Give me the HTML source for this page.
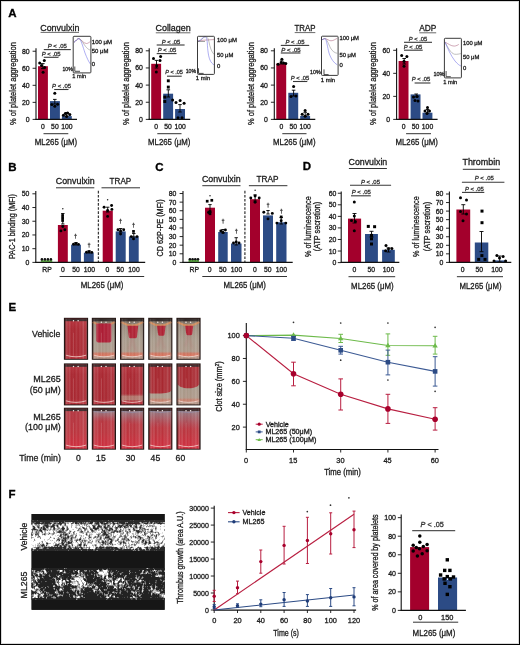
<!DOCTYPE html>
<html><head><meta charset="utf-8"><style>
html,body{margin:0;padding:0;background:#fff;width:520px;height:645px;overflow:hidden}
svg{display:block;will-change:transform}
</style></head><body>
<svg width="520" height="645" viewBox="0 0 520 645" font-family="'Liberation Sans', sans-serif" fill="#1c1c1c">
<rect x="0" y="0" width="520" height="645" fill="#fff"/>
<text x="8.3" y="16.88" font-size="11.5" font-weight="bold" fill="#000" stroke="#000" stroke-width="0.3">A</text>
<rect x="38" y="66.2" width="9.9" height="53.2" fill="#A3002C"/>
<rect x="50" y="101.1" width="9.9" height="18.3" fill="#2C4B85"/>
<rect x="61.9" y="116.1" width="9.9" height="3.3" fill="#2C4B85"/>
<line x1="42.8" y1="63.6" x2="42.8" y2="68.6" stroke="#000" stroke-width="0.9"/>
<line x1="41" y1="63.6" x2="44.6" y2="63.6" stroke="#000" stroke-width="0.9"/>
<line x1="41" y1="68.6" x2="44.6" y2="68.6" stroke="#000" stroke-width="0.9"/>
<line x1="54.8" y1="99.4" x2="54.8" y2="104" stroke="#000" stroke-width="0.9"/>
<line x1="53" y1="99.4" x2="56.6" y2="99.4" stroke="#000" stroke-width="0.9"/>
<line x1="53" y1="104" x2="56.6" y2="104" stroke="#000" stroke-width="0.9"/>
<line x1="66.6" y1="112.6" x2="66.6" y2="116.1" stroke="#000" stroke-width="0.9"/>
<line x1="64.8" y1="112.6" x2="68.4" y2="112.6" stroke="#000" stroke-width="0.9"/>
<line x1="64.8" y1="116.1" x2="68.4" y2="116.1" stroke="#000" stroke-width="0.9"/>
<circle cx="39.7" cy="63.1" r="1.5" fill="#000"/>
<circle cx="44.3" cy="60.5" r="1.5" fill="#000"/>
<circle cx="41.5" cy="65.4" r="1.5" fill="#000"/>
<circle cx="44.6" cy="67.4" r="1.5" fill="#000"/>
<circle cx="43.1" cy="72.3" r="1.5" fill="#000"/>
<circle cx="54.8" cy="93.3" r="1.5" fill="#000"/>
<circle cx="51.8" cy="104.5" r="1.5" fill="#000"/>
<circle cx="54.8" cy="106.3" r="1.5" fill="#000"/>
<circle cx="57.6" cy="104.3" r="1.5" fill="#000"/>
<circle cx="63.4" cy="115.2" r="1.5" fill="#000"/>
<circle cx="65.4" cy="113.4" r="1.5" fill="#000"/>
<circle cx="67.6" cy="113" r="1.5" fill="#000"/>
<circle cx="69.8" cy="114.6" r="1.5" fill="#000"/>
<circle cx="66.6" cy="116.6" r="1.5" fill="#000"/>
<line x1="36" y1="48.3" x2="36" y2="119.95" stroke="#111" stroke-width="1.1"/>
<line x1="32.6" y1="119.4" x2="36" y2="119.4" stroke="#111" stroke-width="0.9"/>
<text x="29.6" y="121.88" font-size="6.9" text-anchor="end" stroke="#1c1c1c" stroke-width="0.3">0</text>
<line x1="32.6" y1="102.36" x2="36" y2="102.36" stroke="#111" stroke-width="0.9"/>
<text x="29.6" y="104.84" font-size="6.9" text-anchor="end" stroke="#1c1c1c" stroke-width="0.3">20</text>
<line x1="32.6" y1="85.32" x2="36" y2="85.32" stroke="#111" stroke-width="0.9"/>
<text x="29.6" y="87.8" font-size="6.9" text-anchor="end" stroke="#1c1c1c" stroke-width="0.3">40</text>
<line x1="32.6" y1="68.28" x2="36" y2="68.28" stroke="#111" stroke-width="0.9"/>
<text x="29.6" y="70.76" font-size="6.9" text-anchor="end" stroke="#1c1c1c" stroke-width="0.3">60</text>
<line x1="32.6" y1="51.24" x2="36" y2="51.24" stroke="#111" stroke-width="0.9"/>
<text x="29.6" y="53.72" font-size="6.9" text-anchor="end" stroke="#1c1c1c" stroke-width="0.3">80</text>
<line x1="35.5" y1="119.4" x2="77" y2="119.4" stroke="#111" stroke-width="1.2"/>
<text x="43" y="128.75" font-size="6.8" text-anchor="middle" stroke="#1c1c1c" stroke-width="0.3">0</text>
<text x="54.9" y="128.75" font-size="6.8" text-anchor="middle" stroke="#1c1c1c" stroke-width="0.3">50</text>
<text x="66.9" y="128.75" font-size="6.8" text-anchor="middle" stroke="#1c1c1c" stroke-width="0.3">100</text>
<line x1="43.5" y1="133.7" x2="68.3" y2="133.7" stroke="#333" stroke-width="1"/>
<text x="56" y="145.03" font-size="8.7" text-anchor="middle" textLength="42.43" lengthAdjust="spacingAndGlyphs" stroke="#1c1c1c" stroke-width="0.3">ML265 (μM)</text>
<text transform="translate(15.6 83.6) rotate(-90)" font-size="9.2" text-anchor="middle" textLength="82.82" lengthAdjust="spacingAndGlyphs" stroke="#1c1c1c" stroke-width="0.3">% of platelet aggregation</text>
<text x="59.8" y="30.8" font-size="8.8" text-anchor="middle" textLength="39.17" lengthAdjust="spacingAndGlyphs" stroke="#1c1c1c" stroke-width="0.3">Convulxin</text>
<line x1="40.6" y1="32.4" x2="79" y2="32.4" stroke="#444" stroke-width="0.8"/>
<text x="57.25" y="48.09" font-size="5.8" text-anchor="middle" textLength="19.05" lengthAdjust="spacingAndGlyphs" fill="#333" stroke="#333" stroke-width="0.3"><tspan font-style="italic">P</tspan> &lt; .05</text>
<line x1="43.8" y1="49.6" x2="70.8" y2="49.6" stroke="#383838" stroke-width="1.1"/>
<text x="51.2" y="55.89" font-size="5.8" text-anchor="middle" textLength="18.95" lengthAdjust="spacingAndGlyphs" fill="#333" stroke="#333" stroke-width="0.3"><tspan font-style="italic">P</tspan> &lt; .05</text>
<line x1="43.8" y1="57.3" x2="58.5" y2="57.3" stroke="#383838" stroke-width="1.1"/>
<text x="61.55" y="87.89" font-size="5.8" text-anchor="middle" textLength="19.05" lengthAdjust="spacingAndGlyphs" fill="#333" stroke="#333" stroke-width="0.3"><tspan font-style="italic">P</tspan> &lt; .05</text>
<line x1="54.2" y1="89.5" x2="68.5" y2="89.5" stroke="#383838" stroke-width="1.1"/>
<path d="M74 42.3 C76 41 77.5 38.3 79 38.5 C81 38.8 83 43.5 86.5 43.5 C88 43.5 89.5 42 90.3 41.6" stroke="#A8607A" stroke-width="0.55" fill="none"/>
<path d="M74 42.3 C76 41 77.5 38.3 79 38.5 C81.5 39.5 84 45 86.5 47.5 C88 49 89 49.8 90.3 50" stroke="#8a8a8a" stroke-width="0.55" fill="none"/>
<path d="M74 42.3 C76 41 77.5 38.3 79 38.5 C81 39.5 83 47 85 53 C87 58 88.5 61.5 90.3 63.9" stroke="#6C6CE8" stroke-width="0.55" fill="none"/>
<rect x="73.2" y="36.3" width="17.7" height="36.6" fill="none" stroke="#3a3a3a" stroke-width="1" rx="0.8"/>
<text x="91.8" y="43.69" font-size="5.8" textLength="20.2" lengthAdjust="spacingAndGlyphs" stroke="#1c1c1c" stroke-width="0.3">100 μM</text>
<text x="91.8" y="52.69" font-size="5.8" textLength="16.6" lengthAdjust="spacingAndGlyphs" stroke="#1c1c1c" stroke-width="0.3">50 μM</text>
<text x="91.8" y="65.69" font-size="5.8" textLength="3.3" lengthAdjust="spacingAndGlyphs" stroke="#1c1c1c" stroke-width="0.3">0</text>
<path d="M74.8 66.5 V71.3 H80" stroke="#222" stroke-width="0.8" fill="none"/>
<text x="67.65" y="71.29" font-size="5.8" text-anchor="middle" textLength="10.3" lengthAdjust="spacingAndGlyphs" stroke="#1c1c1c" stroke-width="0.3">10%</text>
<text x="79.25" y="78.09" font-size="5.8" text-anchor="middle" textLength="13.77" lengthAdjust="spacingAndGlyphs" stroke="#1c1c1c" stroke-width="0.3">1 min</text>
<rect x="151.2" y="63.8" width="9.9" height="55.6" fill="#A3002C"/>
<rect x="163.2" y="93.7" width="9.9" height="25.7" fill="#2C4B85"/>
<rect x="175.1" y="109" width="9.9" height="10.4" fill="#2C4B85"/>
<line x1="156.5" y1="60.4" x2="156.5" y2="68" stroke="#000" stroke-width="0.9"/>
<line x1="154.7" y1="60.4" x2="158.3" y2="60.4" stroke="#000" stroke-width="0.9"/>
<line x1="154.7" y1="68" x2="158.3" y2="68" stroke="#000" stroke-width="0.9"/>
<line x1="168.3" y1="89.8" x2="168.3" y2="97" stroke="#000" stroke-width="0.9"/>
<line x1="166.5" y1="89.8" x2="170.1" y2="89.8" stroke="#000" stroke-width="0.9"/>
<line x1="166.5" y1="97" x2="170.1" y2="97" stroke="#000" stroke-width="0.9"/>
<line x1="180" y1="104.6" x2="180" y2="112" stroke="#000" stroke-width="0.9"/>
<line x1="178.2" y1="104.6" x2="181.8" y2="104.6" stroke="#000" stroke-width="0.9"/>
<line x1="178.2" y1="112" x2="181.8" y2="112" stroke="#000" stroke-width="0.9"/>
<circle cx="153.5" cy="58.5" r="1.5" fill="#000"/>
<circle cx="160.6" cy="56.5" r="1.5" fill="#000"/>
<circle cx="160" cy="60.4" r="1.5" fill="#000"/>
<circle cx="156.7" cy="65.8" r="1.5" fill="#000"/>
<circle cx="156.3" cy="71.9" r="1.5" fill="#000"/>
<rect x="166.85" y="79.35" width="2.9" height="2.9" fill="#000"/>
<rect x="166.85" y="85.65" width="2.9" height="2.9" fill="#000"/>
<rect x="163.35" y="95.65" width="2.9" height="2.9" fill="#000"/>
<rect x="163.35" y="100.05" width="2.9" height="2.9" fill="#000"/>
<circle cx="172.6" cy="100" r="1.5" fill="#000"/>
<circle cx="176" cy="102.5" r="1.5" fill="#000"/>
<circle cx="180.1" cy="100.6" r="1.5" fill="#000"/>
<circle cx="184.1" cy="103.2" r="1.5" fill="#000"/>
<circle cx="178" cy="117.8" r="1.5" fill="#000"/>
<circle cx="182" cy="117.8" r="1.5" fill="#000"/>
<line x1="149.2" y1="48.3" x2="149.2" y2="119.95" stroke="#111" stroke-width="1.1"/>
<line x1="145.8" y1="119.4" x2="149.2" y2="119.4" stroke="#111" stroke-width="0.9"/>
<text x="142.8" y="121.88" font-size="6.9" text-anchor="end" stroke="#1c1c1c" stroke-width="0.3">0</text>
<line x1="145.8" y1="102.25" x2="149.2" y2="102.25" stroke="#111" stroke-width="0.9"/>
<text x="142.8" y="104.73" font-size="6.9" text-anchor="end" stroke="#1c1c1c" stroke-width="0.3">20</text>
<line x1="145.8" y1="85.1" x2="149.2" y2="85.1" stroke="#111" stroke-width="0.9"/>
<text x="142.8" y="87.58" font-size="6.9" text-anchor="end" stroke="#1c1c1c" stroke-width="0.3">40</text>
<line x1="145.8" y1="67.95" x2="149.2" y2="67.95" stroke="#111" stroke-width="0.9"/>
<text x="142.8" y="70.43" font-size="6.9" text-anchor="end" stroke="#1c1c1c" stroke-width="0.3">60</text>
<line x1="145.8" y1="50.8" x2="149.2" y2="50.8" stroke="#111" stroke-width="0.9"/>
<text x="142.8" y="53.28" font-size="6.9" text-anchor="end" stroke="#1c1c1c" stroke-width="0.3">80</text>
<line x1="148.7" y1="119.4" x2="190.2" y2="119.4" stroke="#111" stroke-width="1.2"/>
<text x="156.2" y="128.75" font-size="6.8" text-anchor="middle" stroke="#1c1c1c" stroke-width="0.3">0</text>
<text x="168.1" y="128.75" font-size="6.8" text-anchor="middle" stroke="#1c1c1c" stroke-width="0.3">50</text>
<text x="180.1" y="128.75" font-size="6.8" text-anchor="middle" stroke="#1c1c1c" stroke-width="0.3">100</text>
<line x1="157.3" y1="133.7" x2="181.5" y2="133.7" stroke="#333" stroke-width="1"/>
<text x="169.2" y="145.03" font-size="8.7" text-anchor="middle" textLength="42.43" lengthAdjust="spacingAndGlyphs" stroke="#1c1c1c" stroke-width="0.3">ML265 (μM)</text>
<text transform="translate(128.8 83.6) rotate(-90)" font-size="9.2" text-anchor="middle" textLength="82.82" lengthAdjust="spacingAndGlyphs" stroke="#1c1c1c" stroke-width="0.3">% of platelet aggregation</text>
<text x="173.1" y="31.2" font-size="8.8" text-anchor="middle" textLength="35.29" lengthAdjust="spacingAndGlyphs" stroke="#1c1c1c" stroke-width="0.3">Collagen</text>
<line x1="155.8" y1="32.8" x2="190.4" y2="32.8" stroke="#444" stroke-width="0.8"/>
<text x="171" y="43.69" font-size="5.8" text-anchor="middle" textLength="18.54" lengthAdjust="spacingAndGlyphs" fill="#333" stroke="#333" stroke-width="0.3"><tspan font-style="italic">P</tspan> &lt; .05</text>
<line x1="156.7" y1="45" x2="184.6" y2="45" stroke="#383838" stroke-width="1.1"/>
<text x="167" y="52.09" font-size="5.8" text-anchor="middle" textLength="18.54" lengthAdjust="spacingAndGlyphs" fill="#333" stroke="#333" stroke-width="0.3"><tspan font-style="italic">P</tspan> &lt; .05</text>
<line x1="156.7" y1="53.6" x2="176.5" y2="53.6" stroke="#383838" stroke-width="1.1"/>
<text x="174.05" y="74.39" font-size="5.8" text-anchor="middle" textLength="17.82" lengthAdjust="spacingAndGlyphs" fill="#333" stroke="#333" stroke-width="0.3"><tspan font-style="italic">P</tspan> &lt; .05</text>
<line x1="167" y1="76.2" x2="181.7" y2="76.2" stroke="#383838" stroke-width="1.1"/>
<path d="M198 40.8 C201 40.5 205 40 214 39.6" stroke="#A8607A" stroke-width="0.55" fill="none"/>
<path d="M198 41.5 C201 41 203 37 205.5 36.8 C207.5 36.8 208.3 38.5 209 42 C210 47 211.5 52 214 54.4" stroke="#8a8a8a" stroke-width="0.55" fill="none"/>
<path d="M198 41.5 C201 40.5 203 36.8 204.8 36.6 C206.5 36.6 207 39 207.3 43 C207.6 50 208.5 57 210 60 C211 62.5 212.5 64 214 64.8" stroke="#6C6CE8" stroke-width="0.55" fill="none"/>
<path d="M198 41.5 H205" stroke="#555" stroke-width="0.55" fill="none"/>
<rect x="197.5" y="36.3" width="16.9" height="38.1" fill="none" stroke="#3a3a3a" stroke-width="1" rx="0.8"/>
<text x="216.9" y="42.09" font-size="5.8" textLength="20" lengthAdjust="spacingAndGlyphs" stroke="#1c1c1c" stroke-width="0.3">100 μM</text>
<text x="216.9" y="57.09" font-size="5.8" textLength="16.4" lengthAdjust="spacingAndGlyphs" stroke="#1c1c1c" stroke-width="0.3">50 μM</text>
<text x="216.9" y="67.69" font-size="5.8" textLength="3.3" lengthAdjust="spacingAndGlyphs" stroke="#1c1c1c" stroke-width="0.3">0</text>
<path d="M198.5 68.3 V73.4 H203.6" stroke="#222" stroke-width="0.8" fill="none"/>
<text x="190.9" y="73.19" font-size="5.8" text-anchor="middle" textLength="10.4" lengthAdjust="spacingAndGlyphs" stroke="#1c1c1c" stroke-width="0.3">10%</text>
<text x="203" y="80.39" font-size="5.8" text-anchor="middle" textLength="14.28" lengthAdjust="spacingAndGlyphs" stroke="#1c1c1c" stroke-width="0.3">1 min</text>
<rect x="276.3" y="63.5" width="9.9" height="55.9" fill="#A3002C"/>
<rect x="288.3" y="92.8" width="9.9" height="26.6" fill="#2C4B85"/>
<rect x="300.2" y="115.9" width="9.9" height="3.5" fill="#2C4B85"/>
<line x1="281.6" y1="61" x2="281.6" y2="64" stroke="#000" stroke-width="0.9"/>
<line x1="279.8" y1="61" x2="283.4" y2="61" stroke="#000" stroke-width="0.9"/>
<line x1="279.8" y1="64" x2="283.4" y2="64" stroke="#000" stroke-width="0.9"/>
<line x1="293.6" y1="90.2" x2="293.6" y2="96" stroke="#000" stroke-width="0.9"/>
<line x1="291.8" y1="90.2" x2="295.4" y2="90.2" stroke="#000" stroke-width="0.9"/>
<line x1="291.8" y1="96" x2="295.4" y2="96" stroke="#000" stroke-width="0.9"/>
<line x1="305.2" y1="112.3" x2="305.2" y2="116" stroke="#000" stroke-width="0.9"/>
<line x1="303.4" y1="112.3" x2="307" y2="112.3" stroke="#000" stroke-width="0.9"/>
<line x1="303.4" y1="116" x2="307" y2="116" stroke="#000" stroke-width="0.9"/>
<circle cx="278.1" cy="64.3" r="1.5" fill="#000"/>
<circle cx="281.9" cy="59.2" r="1.5" fill="#000"/>
<circle cx="285.8" cy="63.5" r="1.5" fill="#000"/>
<circle cx="281.2" cy="62.6" r="1.5" fill="#000"/>
<circle cx="283.6" cy="63" r="1.5" fill="#000"/>
<circle cx="293.6" cy="86.4" r="1.5" fill="#000"/>
<circle cx="291" cy="96.5" r="1.5" fill="#000"/>
<circle cx="296" cy="96" r="1.5" fill="#000"/>
<circle cx="305.1" cy="110.4" r="1.5" fill="#000"/>
<circle cx="302.2" cy="114.2" r="1.5" fill="#000"/>
<circle cx="305.2" cy="116.3" r="1.5" fill="#000"/>
<circle cx="308" cy="114.2" r="1.5" fill="#000"/>
<line x1="274.3" y1="48.3" x2="274.3" y2="119.95" stroke="#111" stroke-width="1.1"/>
<line x1="270.9" y1="119.4" x2="274.3" y2="119.4" stroke="#111" stroke-width="0.9"/>
<text x="267.9" y="121.88" font-size="6.9" text-anchor="end" stroke="#1c1c1c" stroke-width="0.3">0</text>
<line x1="270.9" y1="102.25" x2="274.3" y2="102.25" stroke="#111" stroke-width="0.9"/>
<text x="267.9" y="104.73" font-size="6.9" text-anchor="end" stroke="#1c1c1c" stroke-width="0.3">20</text>
<line x1="270.9" y1="85.1" x2="274.3" y2="85.1" stroke="#111" stroke-width="0.9"/>
<text x="267.9" y="87.58" font-size="6.9" text-anchor="end" stroke="#1c1c1c" stroke-width="0.3">40</text>
<line x1="270.9" y1="67.95" x2="274.3" y2="67.95" stroke="#111" stroke-width="0.9"/>
<text x="267.9" y="70.43" font-size="6.9" text-anchor="end" stroke="#1c1c1c" stroke-width="0.3">60</text>
<line x1="270.9" y1="50.8" x2="274.3" y2="50.8" stroke="#111" stroke-width="0.9"/>
<text x="267.9" y="53.28" font-size="6.9" text-anchor="end" stroke="#1c1c1c" stroke-width="0.3">80</text>
<line x1="273.8" y1="119.4" x2="315.3" y2="119.4" stroke="#111" stroke-width="1.2"/>
<text x="281.3" y="128.75" font-size="6.8" text-anchor="middle" stroke="#1c1c1c" stroke-width="0.3">0</text>
<text x="293.2" y="128.75" font-size="6.8" text-anchor="middle" stroke="#1c1c1c" stroke-width="0.3">50</text>
<text x="305.2" y="128.75" font-size="6.8" text-anchor="middle" stroke="#1c1c1c" stroke-width="0.3">100</text>
<line x1="282.3" y1="133.7" x2="306.5" y2="133.7" stroke="#333" stroke-width="1"/>
<text x="294.3" y="145.03" font-size="8.7" text-anchor="middle" textLength="42.43" lengthAdjust="spacingAndGlyphs" stroke="#1c1c1c" stroke-width="0.3">ML265 (μM)</text>
<text transform="translate(253.9 83.6) rotate(-90)" font-size="9.2" text-anchor="middle" textLength="82.82" lengthAdjust="spacingAndGlyphs" stroke="#1c1c1c" stroke-width="0.3">% of platelet aggregation</text>
<text x="305" y="31" font-size="8.8" text-anchor="middle" textLength="21.01" lengthAdjust="spacingAndGlyphs" stroke="#1c1c1c" stroke-width="0.3">TRAP</text>
<line x1="294.7" y1="32.6" x2="315.3" y2="32.6" stroke="#444" stroke-width="0.8"/>
<text x="295" y="44.39" font-size="5.8" text-anchor="middle" textLength="18.95" lengthAdjust="spacingAndGlyphs" fill="#333" stroke="#333" stroke-width="0.3"><tspan font-style="italic">P</tspan> &lt; .05</text>
<line x1="280.8" y1="45.4" x2="309.2" y2="45.4" stroke="#383838" stroke-width="1.1"/>
<text x="290.95" y="52.09" font-size="5.8" text-anchor="middle" textLength="19.47" lengthAdjust="spacingAndGlyphs" fill="#333" stroke="#333" stroke-width="0.3"><tspan font-style="italic">P</tspan> &lt; .05</text>
<line x1="280.8" y1="53" x2="300.4" y2="53" stroke="#383838" stroke-width="1.1"/>
<text x="300" y="80.29" font-size="5.8" text-anchor="middle" textLength="18.54" lengthAdjust="spacingAndGlyphs" fill="#333" stroke="#333" stroke-width="0.3"><tspan font-style="italic">P</tspan> &lt; .05</text>
<line x1="293" y1="81.5" x2="307.3" y2="81.5" stroke="#383838" stroke-width="1.1"/>
<path d="M322 39.8 C323.5 39 324.5 38.5 325.2 38.6 C327 38.8 329 40.8 331 40.8 C333.5 40.8 335.5 39 337.3 38.3" stroke="#A8607A" stroke-width="0.55" fill="none"/>
<path d="M322 39.8 C323.5 39 324.5 38.5 325.2 38.6 C327 39.5 328.5 44 330.5 48 C332.5 51.5 335 53 337.3 53.3" stroke="#8a8a8a" stroke-width="0.55" fill="none"/>
<path d="M322 39.8 C323.5 39 324.5 38.5 325.2 38.6 C326.5 40 327.5 47 329 53 C331 59 334 63 337.3 64.8" stroke="#6C6CE8" stroke-width="0.55" fill="none"/>
<rect x="321.5" y="36.2" width="16.6" height="39.2" fill="none" stroke="#3a3a3a" stroke-width="1" rx="0.8"/>
<text x="339.4" y="40.39" font-size="5.8" textLength="19.6" lengthAdjust="spacingAndGlyphs" stroke="#1c1c1c" stroke-width="0.3">100 μM</text>
<text x="339.4" y="57.09" font-size="5.8" textLength="16.4" lengthAdjust="spacingAndGlyphs" stroke="#1c1c1c" stroke-width="0.3">50 μM</text>
<text x="339.4" y="66.89" font-size="5.8" textLength="3.3" lengthAdjust="spacingAndGlyphs" stroke="#1c1c1c" stroke-width="0.3">0</text>
<path d="M324 69.4 V74.6 H328.6" stroke="#222" stroke-width="0.8" fill="none"/>
<text x="315.4" y="74.39" font-size="5.8" text-anchor="middle" textLength="10.61" lengthAdjust="spacingAndGlyphs" stroke="#1c1c1c" stroke-width="0.3">10%</text>
<text x="327.95" y="82.49" font-size="5.8" text-anchor="middle" textLength="14.38" lengthAdjust="spacingAndGlyphs" stroke="#1c1c1c" stroke-width="0.3">1 min</text>
<rect x="398.6" y="61" width="9.9" height="58.4" fill="#A3002C"/>
<rect x="410.6" y="94.4" width="9.9" height="25" fill="#2C4B85"/>
<rect x="422.5" y="112.7" width="9.9" height="6.7" fill="#2C4B85"/>
<line x1="404.2" y1="58.5" x2="404.2" y2="64" stroke="#000" stroke-width="0.9"/>
<line x1="402.4" y1="58.5" x2="406" y2="58.5" stroke="#000" stroke-width="0.9"/>
<line x1="402.4" y1="64" x2="406" y2="64" stroke="#000" stroke-width="0.9"/>
<line x1="416.2" y1="94" x2="416.2" y2="97" stroke="#000" stroke-width="0.9"/>
<line x1="414.4" y1="94" x2="418" y2="94" stroke="#000" stroke-width="0.9"/>
<line x1="414.4" y1="97" x2="418" y2="97" stroke="#000" stroke-width="0.9"/>
<line x1="427.5" y1="109.5" x2="427.5" y2="113" stroke="#000" stroke-width="0.9"/>
<line x1="425.7" y1="109.5" x2="429.3" y2="109.5" stroke="#000" stroke-width="0.9"/>
<line x1="425.7" y1="113" x2="429.3" y2="113" stroke="#000" stroke-width="0.9"/>
<circle cx="401.7" cy="55.6" r="1.5" fill="#000"/>
<circle cx="406.9" cy="56.5" r="1.5" fill="#000"/>
<circle cx="404" cy="61.3" r="1.5" fill="#000"/>
<circle cx="404" cy="66.2" r="1.5" fill="#000"/>
<circle cx="413.5" cy="97" r="1.5" fill="#000"/>
<circle cx="417.2" cy="96.5" r="1.5" fill="#000"/>
<circle cx="415" cy="100.5" r="1.5" fill="#000"/>
<circle cx="418" cy="101" r="1.5" fill="#000"/>
<circle cx="427.5" cy="107.5" r="1.5" fill="#000"/>
<circle cx="425" cy="111" r="1.5" fill="#000"/>
<circle cx="429.5" cy="111" r="1.5" fill="#000"/>
<circle cx="427" cy="113.5" r="1.5" fill="#000"/>
<line x1="396.6" y1="48.3" x2="396.6" y2="119.95" stroke="#111" stroke-width="1.1"/>
<line x1="393.2" y1="119.4" x2="396.6" y2="119.4" stroke="#111" stroke-width="0.9"/>
<text x="390.2" y="121.88" font-size="6.9" text-anchor="end" stroke="#1c1c1c" stroke-width="0.3">0</text>
<line x1="393.2" y1="96.37" x2="396.6" y2="96.37" stroke="#111" stroke-width="0.9"/>
<text x="390.2" y="98.85" font-size="6.9" text-anchor="end" stroke="#1c1c1c" stroke-width="0.3">20</text>
<line x1="393.2" y1="73.33" x2="396.6" y2="73.33" stroke="#111" stroke-width="0.9"/>
<text x="390.2" y="75.82" font-size="6.9" text-anchor="end" stroke="#1c1c1c" stroke-width="0.3">40</text>
<line x1="393.2" y1="50.3" x2="396.6" y2="50.3" stroke="#111" stroke-width="0.9"/>
<text x="390.2" y="52.78" font-size="6.9" text-anchor="end" stroke="#1c1c1c" stroke-width="0.3">60</text>
<line x1="396.1" y1="119.4" x2="437.6" y2="119.4" stroke="#111" stroke-width="1.2"/>
<text x="403.6" y="128.75" font-size="6.8" text-anchor="middle" stroke="#1c1c1c" stroke-width="0.3">0</text>
<text x="415.5" y="128.75" font-size="6.8" text-anchor="middle" stroke="#1c1c1c" stroke-width="0.3">50</text>
<text x="427.5" y="128.75" font-size="6.8" text-anchor="middle" stroke="#1c1c1c" stroke-width="0.3">100</text>
<line x1="406.1" y1="133.7" x2="431" y2="133.7" stroke="#333" stroke-width="1"/>
<text x="416.6" y="145.03" font-size="8.7" text-anchor="middle" textLength="42.43" lengthAdjust="spacingAndGlyphs" stroke="#1c1c1c" stroke-width="0.3">ML265 (μM)</text>
<text transform="translate(376.2 83.6) rotate(-90)" font-size="9.2" text-anchor="middle" textLength="82.82" lengthAdjust="spacingAndGlyphs" stroke="#1c1c1c" stroke-width="0.3">% of platelet aggregation</text>
<text x="427.8" y="31.2" font-size="8.8" text-anchor="middle" textLength="17.14" lengthAdjust="spacingAndGlyphs" stroke="#1c1c1c" stroke-width="0.3">ADP</text>
<line x1="419.4" y1="32.8" x2="436.2" y2="32.8" stroke="#444" stroke-width="0.8"/>
<text x="418" y="40.79" font-size="5.8" text-anchor="middle" textLength="18.54" lengthAdjust="spacingAndGlyphs" fill="#333" stroke="#333" stroke-width="0.3"><tspan font-style="italic">P</tspan> &lt; .05</text>
<line x1="404" y1="42.3" x2="432" y2="42.3" stroke="#383838" stroke-width="1.1"/>
<text x="413" y="48.59" font-size="5.8" text-anchor="middle" textLength="18.54" lengthAdjust="spacingAndGlyphs" fill="#333" stroke="#333" stroke-width="0.3"><tspan font-style="italic">P</tspan> &lt; .05</text>
<line x1="404" y1="50.2" x2="422.7" y2="50.2" stroke="#383838" stroke-width="1.1"/>
<text x="421" y="81.29" font-size="5.8" text-anchor="middle" textLength="18.54" lengthAdjust="spacingAndGlyphs" fill="#333" stroke="#333" stroke-width="0.3"><tspan font-style="italic">P</tspan> &lt; .05</text>
<line x1="414.6" y1="83" x2="430.4" y2="83" stroke="#383838" stroke-width="1.1"/>
<path d="M445 42.1 C448 43.5 451 46.2 454.2 46.1 C456.5 46 458 44.8 458.8 44.4" stroke="#A8607A" stroke-width="0.55" fill="none"/>
<path d="M445 42.1 C447.5 47 451 53.5 454.5 54.2 C457 54.6 459.5 53.8 461 53.6" stroke="#8a8a8a" stroke-width="0.55" fill="none"/>
<path d="M445 42.1 C447.5 48 451 56 455 61 C457.5 64 459.5 65.5 461 66" stroke="#6C6CE8" stroke-width="0.55" fill="none"/>
<rect x="444.4" y="38.3" width="17" height="39.6" fill="none" stroke="#3a3a3a" stroke-width="1" rx="0.8"/>
<text x="462.9" y="44.59" font-size="5.8" textLength="19.6" lengthAdjust="spacingAndGlyphs" stroke="#1c1c1c" stroke-width="0.3">100 μM</text>
<text x="462.9" y="59.19" font-size="5.8" textLength="16.4" lengthAdjust="spacingAndGlyphs" stroke="#1c1c1c" stroke-width="0.3">50 μM</text>
<text x="462.9" y="69.59" font-size="5.8" textLength="3.3" lengthAdjust="spacingAndGlyphs" stroke="#1c1c1c" stroke-width="0.3">0</text>
<path d="M446.1 71 V76.7 H450.8" stroke="#222" stroke-width="0.8" fill="none"/>
<text x="438.95" y="76.49" font-size="5.8" text-anchor="middle" textLength="11.12" lengthAdjust="spacingAndGlyphs" stroke="#1c1c1c" stroke-width="0.3">10%</text>
<text x="450.2" y="83.99" font-size="5.8" text-anchor="middle" textLength="14.08" lengthAdjust="spacingAndGlyphs" stroke="#1c1c1c" stroke-width="0.3">1 min</text>
<text x="8.3" y="170.68" font-size="11.5" font-weight="bold" fill="#000" stroke="#000" stroke-width="0.3">B</text>
<rect x="40.8" y="260.2" width="11.5" height="2.2" fill="#62B847"/>
<rect x="57.9" y="225" width="9.9" height="37.4" fill="#A3002C"/>
<rect x="71.1" y="244.7" width="9.8" height="17.7" fill="#2C4B85"/>
<rect x="83.9" y="252.7" width="9.8" height="9.7" fill="#2C4B85"/>
<rect x="102.7" y="210.7" width="10.1" height="51.7" fill="#A3002C"/>
<rect x="115.7" y="231.4" width="10" height="31" fill="#2C4B85"/>
<rect x="128.9" y="236.6" width="9.8" height="25.8" fill="#2C4B85"/>
<line x1="62.8" y1="213.5" x2="62.8" y2="224" stroke="#000" stroke-width="0.9"/>
<line x1="61.1" y1="213.5" x2="64.5" y2="213.5" stroke="#000" stroke-width="0.9"/>
<line x1="61.1" y1="224" x2="64.5" y2="224" stroke="#000" stroke-width="0.9"/>
<line x1="76" y1="242.5" x2="76" y2="245" stroke="#000" stroke-width="0.9"/>
<line x1="74.3" y1="242.5" x2="77.7" y2="242.5" stroke="#000" stroke-width="0.9"/>
<line x1="74.3" y1="245" x2="77.7" y2="245" stroke="#000" stroke-width="0.9"/>
<line x1="89" y1="250.8" x2="89" y2="253" stroke="#000" stroke-width="0.9"/>
<line x1="87.3" y1="250.8" x2="90.7" y2="250.8" stroke="#000" stroke-width="0.9"/>
<line x1="87.3" y1="253" x2="90.7" y2="253" stroke="#000" stroke-width="0.9"/>
<line x1="107.7" y1="207.2" x2="107.7" y2="212" stroke="#000" stroke-width="0.9"/>
<line x1="106" y1="207.2" x2="109.4" y2="207.2" stroke="#000" stroke-width="0.9"/>
<line x1="106" y1="212" x2="109.4" y2="212" stroke="#000" stroke-width="0.9"/>
<line x1="120.7" y1="228.5" x2="120.7" y2="232" stroke="#000" stroke-width="0.9"/>
<line x1="119" y1="228.5" x2="122.4" y2="228.5" stroke="#000" stroke-width="0.9"/>
<line x1="119" y1="232" x2="122.4" y2="232" stroke="#000" stroke-width="0.9"/>
<line x1="133.8" y1="233.5" x2="133.8" y2="237" stroke="#000" stroke-width="0.9"/>
<line x1="132.1" y1="233.5" x2="135.5" y2="233.5" stroke="#000" stroke-width="0.9"/>
<line x1="132.1" y1="237" x2="135.5" y2="237" stroke="#000" stroke-width="0.9"/>
<rect x="61.25" y="214.15" width="2.7" height="2.7" fill="#000"/>
<rect x="61.25" y="216.65" width="2.7" height="2.7" fill="#000"/>
<rect x="61.25" y="219.15" width="2.7" height="2.7" fill="#000"/>
<circle cx="60.9" cy="230.9" r="1.45" fill="#000"/>
<circle cx="64.8" cy="229.7" r="1.45" fill="#000"/>
<circle cx="62.8" cy="226.5" r="1.45" fill="#000"/>
<circle cx="73.5" cy="244.2" r="1.45" fill="#000"/>
<circle cx="76" cy="243.6" r="1.45" fill="#000"/>
<circle cx="78.5" cy="244.4" r="1.45" fill="#000"/>
<circle cx="86.5" cy="252.2" r="1.45" fill="#000"/>
<circle cx="89.2" cy="251.8" r="1.45" fill="#000"/>
<circle cx="91.8" cy="252.4" r="1.45" fill="#000"/>
<circle cx="104.1" cy="207.2" r="1.45" fill="#000"/>
<circle cx="111.6" cy="205.5" r="1.45" fill="#000"/>
<circle cx="111.9" cy="209.4" r="1.45" fill="#000"/>
<circle cx="107.6" cy="216.4" r="1.45" fill="#000"/>
<circle cx="107.6" cy="210.5" r="1.45" fill="#000"/>
<circle cx="118" cy="229.7" r="1.45" fill="#000"/>
<circle cx="123.7" cy="229.7" r="1.45" fill="#000"/>
<circle cx="120.6" cy="234" r="1.45" fill="#000"/>
<circle cx="120.6" cy="231" r="1.45" fill="#000"/>
<rect x="132.15" y="230.05" width="2.7" height="2.7" fill="#000"/>
<circle cx="131.3" cy="236.6" r="1.45" fill="#000"/>
<circle cx="137" cy="236.6" r="1.45" fill="#000"/>
<circle cx="133.5" cy="238.9" r="1.45" fill="#000"/>
<circle cx="41.9" cy="259.4" r="1.3" fill="#111"/>
<circle cx="44.9" cy="259.4" r="1.3" fill="#111"/>
<circle cx="47.9" cy="259.4" r="1.3" fill="#111"/>
<circle cx="50.9" cy="259.4" r="1.3" fill="#111"/>
<circle cx="62.8" cy="208.8" r="0.75" fill="#222"/>
<circle cx="107.6" cy="199.8" r="0.75" fill="#222"/>
<text x="75.6" y="238.28" font-size="5.6" text-anchor="middle" fill="#333" stroke="#333" stroke-width="0.3">†</text>
<text x="89.1" y="247.18" font-size="5.6" text-anchor="middle" fill="#333" stroke="#333" stroke-width="0.3">†</text>
<text x="120.6" y="222.88" font-size="5.6" text-anchor="middle" fill="#333" stroke="#333" stroke-width="0.3">†</text>
<text x="133.5" y="226.88" font-size="5.6" text-anchor="middle" fill="#333" stroke="#333" stroke-width="0.3">†</text>
<line x1="98.4" y1="190.8" x2="98.4" y2="262.4" stroke="#3a3a3a" stroke-width="1.25" stroke-dasharray="2.6 1.5"/>
<line x1="35.8" y1="190.9" x2="35.8" y2="262.95" stroke="#111" stroke-width="1.1"/>
<line x1="32.4" y1="262.4" x2="35.8" y2="262.4" stroke="#111" stroke-width="0.9"/>
<text x="29.3" y="264.88" font-size="6.9" text-anchor="end" stroke="#1c1c1c" stroke-width="0.3">0</text>
<line x1="32.4" y1="248.68" x2="35.8" y2="248.68" stroke="#111" stroke-width="0.9"/>
<text x="29.3" y="251.16" font-size="6.9" text-anchor="end" stroke="#1c1c1c" stroke-width="0.3">10</text>
<line x1="32.4" y1="234.96" x2="35.8" y2="234.96" stroke="#111" stroke-width="0.9"/>
<text x="29.3" y="237.44" font-size="6.9" text-anchor="end" stroke="#1c1c1c" stroke-width="0.3">20</text>
<line x1="32.4" y1="221.24" x2="35.8" y2="221.24" stroke="#111" stroke-width="0.9"/>
<text x="29.3" y="223.72" font-size="6.9" text-anchor="end" stroke="#1c1c1c" stroke-width="0.3">30</text>
<line x1="32.4" y1="207.52" x2="35.8" y2="207.52" stroke="#111" stroke-width="0.9"/>
<text x="29.3" y="210" font-size="6.9" text-anchor="end" stroke="#1c1c1c" stroke-width="0.3">40</text>
<line x1="32.4" y1="193.8" x2="35.8" y2="193.8" stroke="#111" stroke-width="0.9"/>
<text x="29.3" y="196.28" font-size="6.9" text-anchor="end" stroke="#1c1c1c" stroke-width="0.3">50</text>
<line x1="35.3" y1="262.4" x2="145.2" y2="262.4" stroke="#111" stroke-width="1.2"/>
<text x="75.25" y="184" font-size="8.8" text-anchor="middle" textLength="38.86" lengthAdjust="spacingAndGlyphs" stroke="#1c1c1c" stroke-width="0.3">Convulxin</text>
<line x1="56" y1="187.8" x2="94.3" y2="187.8" stroke="#333" stroke-width="1"/>
<text x="120.4" y="184.2" font-size="8.8" text-anchor="middle" textLength="21.62" lengthAdjust="spacingAndGlyphs" stroke="#1c1c1c" stroke-width="0.3">TRAP</text>
<line x1="101.5" y1="187.8" x2="140" y2="187.8" stroke="#333" stroke-width="1"/>
<text x="47" y="271.85" font-size="6.8" text-anchor="middle" stroke="#1c1c1c" stroke-width="0.3">RP</text>
<text x="62.9" y="271.85" font-size="6.8" text-anchor="middle" stroke="#1c1c1c" stroke-width="0.3">0</text>
<text x="76" y="271.85" font-size="6.8" text-anchor="middle" stroke="#1c1c1c" stroke-width="0.3">50</text>
<text x="89.4" y="271.85" font-size="6.8" text-anchor="middle" stroke="#1c1c1c" stroke-width="0.3">100</text>
<text x="107.3" y="271.85" font-size="6.8" text-anchor="middle" stroke="#1c1c1c" stroke-width="0.3">0</text>
<text x="120.2" y="271.85" font-size="6.8" text-anchor="middle" stroke="#1c1c1c" stroke-width="0.3">50</text>
<text x="134" y="271.85" font-size="6.8" text-anchor="middle" stroke="#1c1c1c" stroke-width="0.3">100</text>
<line x1="59.6" y1="276.5" x2="144.2" y2="276.5" stroke="#333" stroke-width="1"/>
<text x="102.1" y="288.33" font-size="8.7" text-anchor="middle" textLength="42.64" lengthAdjust="spacingAndGlyphs" stroke="#1c1c1c" stroke-width="0.3">ML265 (μM)</text>
<text transform="translate(15.4 226.5) rotate(-90)" font-size="8.4" text-anchor="middle" textLength="64.84" lengthAdjust="spacingAndGlyphs" stroke="#1c1c1c" stroke-width="0.3">PAC-1 binding (MFI)</text>
<text x="155.2" y="170.68" font-size="11.5" font-weight="bold" fill="#000" stroke="#000" stroke-width="0.3">C</text>
<rect x="188.5" y="259.8" width="10.4" height="2.6" fill="#62B847"/>
<rect x="205" y="207.7" width="10" height="54.7" fill="#A3002C"/>
<rect x="218.2" y="232" width="9.5" height="30.4" fill="#2C4B85"/>
<rect x="231" y="243.5" width="10.5" height="18.9" fill="#2C4B85"/>
<rect x="250" y="199.2" width="10" height="63.2" fill="#A3002C"/>
<rect x="263" y="215.4" width="10" height="47" fill="#2C4B85"/>
<rect x="276.2" y="222.3" width="10.3" height="40.1" fill="#2C4B85"/>
<line x1="210" y1="204.6" x2="210" y2="212" stroke="#000" stroke-width="0.9"/>
<line x1="208.3" y1="204.6" x2="211.7" y2="204.6" stroke="#000" stroke-width="0.9"/>
<line x1="208.3" y1="212" x2="211.7" y2="212" stroke="#000" stroke-width="0.9"/>
<line x1="223" y1="229.5" x2="223" y2="233" stroke="#000" stroke-width="0.9"/>
<line x1="221.3" y1="229.5" x2="224.7" y2="229.5" stroke="#000" stroke-width="0.9"/>
<line x1="221.3" y1="233" x2="224.7" y2="233" stroke="#000" stroke-width="0.9"/>
<line x1="236.2" y1="237.7" x2="236.2" y2="245" stroke="#000" stroke-width="0.9"/>
<line x1="234.5" y1="237.7" x2="237.9" y2="237.7" stroke="#000" stroke-width="0.9"/>
<line x1="234.5" y1="245" x2="237.9" y2="245" stroke="#000" stroke-width="0.9"/>
<line x1="255.1" y1="194.9" x2="255.1" y2="201" stroke="#000" stroke-width="0.9"/>
<line x1="253.4" y1="194.9" x2="256.8" y2="194.9" stroke="#000" stroke-width="0.9"/>
<line x1="253.4" y1="201" x2="256.8" y2="201" stroke="#000" stroke-width="0.9"/>
<line x1="268" y1="210.5" x2="268" y2="214" stroke="#000" stroke-width="0.9"/>
<line x1="266.3" y1="210.5" x2="269.7" y2="210.5" stroke="#000" stroke-width="0.9"/>
<line x1="266.3" y1="214" x2="269.7" y2="214" stroke="#000" stroke-width="0.9"/>
<line x1="281.2" y1="217.5" x2="281.2" y2="224" stroke="#000" stroke-width="0.9"/>
<line x1="279.5" y1="217.5" x2="282.9" y2="217.5" stroke="#000" stroke-width="0.9"/>
<line x1="279.5" y1="224" x2="282.9" y2="224" stroke="#000" stroke-width="0.9"/>
<rect x="205.85" y="199.85" width="2.7" height="2.7" fill="#000"/>
<rect x="210.45" y="198.95" width="2.7" height="2.7" fill="#000"/>
<rect x="208.65" y="210.15" width="2.7" height="2.7" fill="#000"/>
<rect x="208.65" y="212.45" width="2.7" height="2.7" fill="#000"/>
<circle cx="208.5" cy="212.5" r="1.45" fill="#000"/>
<circle cx="220.8" cy="231" r="1.45" fill="#000"/>
<circle cx="225.4" cy="230" r="1.45" fill="#000"/>
<circle cx="223" cy="232.5" r="1.45" fill="#000"/>
<circle cx="233.5" cy="243" r="1.45" fill="#000"/>
<circle cx="239" cy="243" r="1.45" fill="#000"/>
<circle cx="236.2" cy="242" r="1.45" fill="#000"/>
<circle cx="250.8" cy="198" r="1.45" fill="#000"/>
<circle cx="259.2" cy="198" r="1.45" fill="#000"/>
<circle cx="255.1" cy="202.3" r="1.45" fill="#000"/>
<circle cx="255.1" cy="196" r="1.45" fill="#000"/>
<circle cx="263.8" cy="212.3" r="1.45" fill="#000"/>
<circle cx="272.3" cy="213.4" r="1.45" fill="#000"/>
<circle cx="268" cy="218.9" r="1.45" fill="#000"/>
<circle cx="276.9" cy="223.1" r="1.45" fill="#000"/>
<circle cx="285.8" cy="223.1" r="1.45" fill="#000"/>
<rect x="279.85" y="215.55" width="2.7" height="2.7" fill="#000"/>
<circle cx="281.2" cy="220.8" r="1.45" fill="#000"/>
<circle cx="189.9" cy="259.3" r="1.3" fill="#111"/>
<circle cx="192.6" cy="259.3" r="1.3" fill="#111"/>
<circle cx="195.3" cy="259.3" r="1.3" fill="#111"/>
<circle cx="198" cy="259.3" r="1.3" fill="#111"/>
<circle cx="210" cy="195.7" r="0.75" fill="#222"/>
<circle cx="255.1" cy="190.3" r="0.75" fill="#222"/>
<text x="223.1" y="223.38" font-size="5.6" text-anchor="middle" fill="#333" stroke="#333" stroke-width="0.3">†</text>
<text x="236.2" y="233.08" font-size="5.6" text-anchor="middle" fill="#333" stroke="#333" stroke-width="0.3">†</text>
<text x="268" y="206.98" font-size="5.6" text-anchor="middle" fill="#333" stroke="#333" stroke-width="0.3">†</text>
<text x="281.2" y="213.38" font-size="5.6" text-anchor="middle" fill="#333" stroke="#333" stroke-width="0.3">†</text>
<line x1="244.9" y1="190.8" x2="244.9" y2="262.4" stroke="#3a3a3a" stroke-width="1.25" stroke-dasharray="2.6 1.5"/>
<line x1="183" y1="190.9" x2="183" y2="262.95" stroke="#111" stroke-width="1.1"/>
<line x1="179.6" y1="262.4" x2="183" y2="262.4" stroke="#111" stroke-width="0.9"/>
<text x="176.4" y="264.88" font-size="6.9" text-anchor="end" stroke="#1c1c1c" stroke-width="0.3">0</text>
<line x1="179.6" y1="253.79" x2="183" y2="253.79" stroke="#111" stroke-width="0.9"/>
<text x="176.4" y="256.27" font-size="6.9" text-anchor="end" stroke="#1c1c1c" stroke-width="0.3">10</text>
<line x1="179.6" y1="245.18" x2="183" y2="245.18" stroke="#111" stroke-width="0.9"/>
<text x="176.4" y="247.66" font-size="6.9" text-anchor="end" stroke="#1c1c1c" stroke-width="0.3">20</text>
<line x1="179.6" y1="236.57" x2="183" y2="236.57" stroke="#111" stroke-width="0.9"/>
<text x="176.4" y="239.05" font-size="6.9" text-anchor="end" stroke="#1c1c1c" stroke-width="0.3">30</text>
<line x1="179.6" y1="227.96" x2="183" y2="227.96" stroke="#111" stroke-width="0.9"/>
<text x="176.4" y="230.44" font-size="6.9" text-anchor="end" stroke="#1c1c1c" stroke-width="0.3">40</text>
<line x1="179.6" y1="219.35" x2="183" y2="219.35" stroke="#111" stroke-width="0.9"/>
<text x="176.4" y="221.83" font-size="6.9" text-anchor="end" stroke="#1c1c1c" stroke-width="0.3">50</text>
<line x1="179.6" y1="210.74" x2="183" y2="210.74" stroke="#111" stroke-width="0.9"/>
<text x="176.4" y="213.22" font-size="6.9" text-anchor="end" stroke="#1c1c1c" stroke-width="0.3">60</text>
<line x1="179.6" y1="202.13" x2="183" y2="202.13" stroke="#111" stroke-width="0.9"/>
<text x="176.4" y="204.61" font-size="6.9" text-anchor="end" stroke="#1c1c1c" stroke-width="0.3">70</text>
<line x1="179.6" y1="193.52" x2="183" y2="193.52" stroke="#111" stroke-width="0.9"/>
<text x="176.4" y="196" font-size="6.9" text-anchor="end" stroke="#1c1c1c" stroke-width="0.3">80</text>
<line x1="182.5" y1="262.4" x2="292.7" y2="262.4" stroke="#111" stroke-width="1.2"/>
<text x="221.3" y="182" font-size="8.8" text-anchor="middle" textLength="38.76" lengthAdjust="spacingAndGlyphs" stroke="#1c1c1c" stroke-width="0.3">Convulxin</text>
<line x1="202.3" y1="185.7" x2="240.5" y2="185.7" stroke="#333" stroke-width="1"/>
<text x="267.4" y="182.3" font-size="8.8" text-anchor="middle" textLength="22.03" lengthAdjust="spacingAndGlyphs" stroke="#1c1c1c" stroke-width="0.3">TRAP</text>
<line x1="248.9" y1="185.7" x2="287.4" y2="185.7" stroke="#333" stroke-width="1"/>
<text x="194.3" y="271.85" font-size="6.8" text-anchor="middle" stroke="#1c1c1c" stroke-width="0.3">RP</text>
<text x="209.6" y="271.85" font-size="6.8" text-anchor="middle" stroke="#1c1c1c" stroke-width="0.3">0</text>
<text x="222.7" y="271.85" font-size="6.8" text-anchor="middle" stroke="#1c1c1c" stroke-width="0.3">50</text>
<text x="236.5" y="271.85" font-size="6.8" text-anchor="middle" stroke="#1c1c1c" stroke-width="0.3">100</text>
<text x="254.8" y="271.85" font-size="6.8" text-anchor="middle" stroke="#1c1c1c" stroke-width="0.3">0</text>
<text x="267.7" y="271.85" font-size="6.8" text-anchor="middle" stroke="#1c1c1c" stroke-width="0.3">50</text>
<text x="281.3" y="271.85" font-size="6.8" text-anchor="middle" stroke="#1c1c1c" stroke-width="0.3">100</text>
<line x1="202.3" y1="276.5" x2="287" y2="276.5" stroke="#333" stroke-width="1"/>
<text x="244.7" y="288.33" font-size="8.7" text-anchor="middle" textLength="42.23" lengthAdjust="spacingAndGlyphs" stroke="#1c1c1c" stroke-width="0.3">ML265 (μM)</text>
<text transform="translate(162.6 228) rotate(-90)" font-size="8.4" text-anchor="middle" textLength="57.17" lengthAdjust="spacingAndGlyphs" stroke="#1c1c1c" stroke-width="0.3">CD 62P-PE (MFI)</text>
<text x="302.8" y="169.88" font-size="11.5" font-weight="bold" fill="#000" stroke="#000" stroke-width="0.3">D</text>
<rect x="348" y="218.6" width="13.1" height="43.8" fill="#A3002C"/>
<rect x="365" y="234" width="12.9" height="28.4" fill="#2C4B85"/>
<rect x="382.1" y="249.8" width="12.7" height="12.6" fill="#2C4B85"/>
<line x1="354.5" y1="213.5" x2="354.5" y2="223" stroke="#000" stroke-width="0.9"/>
<line x1="352.5" y1="213.5" x2="356.5" y2="213.5" stroke="#000" stroke-width="0.9"/>
<line x1="352.5" y1="223" x2="356.5" y2="223" stroke="#000" stroke-width="0.9"/>
<line x1="371.5" y1="231.3" x2="371.5" y2="237" stroke="#000" stroke-width="0.9"/>
<line x1="369.5" y1="231.3" x2="373.5" y2="231.3" stroke="#000" stroke-width="0.9"/>
<line x1="369.5" y1="237" x2="373.5" y2="237" stroke="#000" stroke-width="0.9"/>
<line x1="388.5" y1="247.9" x2="388.5" y2="252" stroke="#000" stroke-width="0.9"/>
<line x1="386.5" y1="247.9" x2="390.5" y2="247.9" stroke="#000" stroke-width="0.9"/>
<line x1="386.5" y1="252" x2="390.5" y2="252" stroke="#000" stroke-width="0.9"/>
<circle cx="354.3" cy="201.9" r="1.5" fill="#000"/>
<circle cx="351.5" cy="220.4" r="1.5" fill="#000"/>
<circle cx="355.4" cy="221.5" r="1.5" fill="#000"/>
<circle cx="354.3" cy="230.7" r="1.5" fill="#000"/>
<circle cx="354.3" cy="216" r="1.5" fill="#000"/>
<rect x="366.8" y="224.9" width="3" height="3" fill="#000"/>
<rect x="373.1" y="225.2" width="3" height="3" fill="#000"/>
<rect x="370" y="233.9" width="3" height="3" fill="#000"/>
<rect x="370" y="237.3" width="3" height="3" fill="#000"/>
<rect x="370" y="242.5" width="3" height="3" fill="#000"/>
<circle cx="386" cy="245.6" r="1.5" fill="#000"/>
<circle cx="391.9" cy="248.5" r="1.5" fill="#000"/>
<circle cx="385.6" cy="250.8" r="1.5" fill="#000"/>
<circle cx="388.5" cy="248.8" r="1.5" fill="#000"/>
<line x1="341.2" y1="191.5" x2="341.2" y2="262.95" stroke="#111" stroke-width="1.1"/>
<line x1="337.8" y1="262.6" x2="341.2" y2="262.6" stroke="#111" stroke-width="0.9"/>
<text x="336.3" y="265.08" font-size="6.9" text-anchor="end" stroke="#1c1c1c" stroke-width="0.3">0</text>
<line x1="337.8" y1="251.04" x2="341.2" y2="251.04" stroke="#111" stroke-width="0.9"/>
<text x="336.3" y="253.52" font-size="6.9" text-anchor="end" stroke="#1c1c1c" stroke-width="0.3">10</text>
<line x1="337.8" y1="239.48" x2="341.2" y2="239.48" stroke="#111" stroke-width="0.9"/>
<text x="336.3" y="241.96" font-size="6.9" text-anchor="end" stroke="#1c1c1c" stroke-width="0.3">20</text>
<line x1="337.8" y1="227.92" x2="341.2" y2="227.92" stroke="#111" stroke-width="0.9"/>
<text x="336.3" y="230.4" font-size="6.9" text-anchor="end" stroke="#1c1c1c" stroke-width="0.3">30</text>
<line x1="337.8" y1="216.36" x2="341.2" y2="216.36" stroke="#111" stroke-width="0.9"/>
<text x="336.3" y="218.84" font-size="6.9" text-anchor="end" stroke="#1c1c1c" stroke-width="0.3">40</text>
<line x1="337.8" y1="204.8" x2="341.2" y2="204.8" stroke="#111" stroke-width="0.9"/>
<text x="336.3" y="207.28" font-size="6.9" text-anchor="end" stroke="#1c1c1c" stroke-width="0.3">50</text>
<line x1="337.8" y1="193.24" x2="341.2" y2="193.24" stroke="#111" stroke-width="0.9"/>
<text x="336.3" y="195.72" font-size="6.9" text-anchor="end" stroke="#1c1c1c" stroke-width="0.3">60</text>
<line x1="340.7" y1="262.4" x2="399.3" y2="262.4" stroke="#111" stroke-width="1.2"/>
<text x="367.9" y="164.5" font-size="8.8" text-anchor="middle" textLength="38.76" lengthAdjust="spacingAndGlyphs" stroke="#1c1c1c" stroke-width="0.3">Convulxin</text>
<line x1="348.9" y1="168.5" x2="386.9" y2="168.5" stroke="#333" stroke-width="1"/>
<text x="370.45" y="183.99" font-size="5.8" text-anchor="middle" textLength="19.05" lengthAdjust="spacingAndGlyphs" fill="#333" stroke="#333" stroke-width="0.3"><tspan font-style="italic">P</tspan> &lt; .05</text>
<line x1="350" y1="185.3" x2="391.1" y2="185.3" stroke="#383838" stroke-width="1.1"/>
<text x="361.25" y="193.99" font-size="5.8" text-anchor="middle" textLength="19.05" lengthAdjust="spacingAndGlyphs" fill="#333" stroke="#333" stroke-width="0.3"><tspan font-style="italic">P</tspan> &lt; .05</text>
<line x1="351" y1="195.8" x2="370.8" y2="195.8" stroke="#383838" stroke-width="1.1"/>
<text x="354.4" y="272.05" font-size="6.8" text-anchor="middle" stroke="#1c1c1c" stroke-width="0.3">0</text>
<text x="371.2" y="272.05" font-size="6.8" text-anchor="middle" stroke="#1c1c1c" stroke-width="0.3">50</text>
<text x="388.5" y="272.05" font-size="6.8" text-anchor="middle" stroke="#1c1c1c" stroke-width="0.3">100</text>
<line x1="348.5" y1="276.7" x2="395.2" y2="276.7" stroke="#333" stroke-width="1"/>
<text x="372.4" y="288.53" font-size="8.7" text-anchor="middle" textLength="42.64" lengthAdjust="spacingAndGlyphs" stroke="#1c1c1c" stroke-width="0.3">ML265 (μM)</text>
<text transform="translate(311 226.6) rotate(-90)" font-size="9.6" text-anchor="middle" textLength="60.6" lengthAdjust="spacingAndGlyphs" stroke="#1c1c1c" stroke-width="0.3">% of luminescence</text>
<text transform="translate(320.4 226.5) rotate(-90)" font-size="8.4" text-anchor="middle" textLength="49.49" lengthAdjust="spacingAndGlyphs" stroke="#1c1c1c" stroke-width="0.3">(ATP secretion)</text>
<rect x="456.4" y="209.5" width="13.8" height="52.9" fill="#A3002C"/>
<rect x="474.8" y="242.5" width="13.5" height="19.9" fill="#2C4B85"/>
<rect x="493" y="260.4" width="13.5" height="2" fill="#2C4B85"/>
<line x1="463.3" y1="204.7" x2="463.3" y2="214" stroke="#000" stroke-width="0.9"/>
<line x1="461.3" y1="204.7" x2="465.3" y2="204.7" stroke="#000" stroke-width="0.9"/>
<line x1="461.3" y1="214" x2="465.3" y2="214" stroke="#000" stroke-width="0.9"/>
<line x1="481.5" y1="231.5" x2="481.5" y2="251.7" stroke="#000" stroke-width="0.9"/>
<line x1="479.5" y1="231.5" x2="483.5" y2="231.5" stroke="#000" stroke-width="0.9"/>
<line x1="479.5" y1="251.7" x2="483.5" y2="251.7" stroke="#000" stroke-width="0.9"/>
<line x1="499.7" y1="256" x2="499.7" y2="262" stroke="#000" stroke-width="0.9"/>
<line x1="497.7" y1="256" x2="501.7" y2="256" stroke="#000" stroke-width="0.9"/>
<line x1="497.7" y1="262" x2="501.7" y2="262" stroke="#000" stroke-width="0.9"/>
<circle cx="460.5" cy="197.7" r="1.5" fill="#000"/>
<circle cx="466.5" cy="200" r="1.5" fill="#000"/>
<circle cx="460.5" cy="211.6" r="1.5" fill="#000"/>
<circle cx="466.5" cy="213.9" r="1.5" fill="#000"/>
<circle cx="463" cy="220.8" r="1.5" fill="#000"/>
<rect x="480.5" y="209.6" width="3" height="3" fill="#000"/>
<rect x="480.5" y="221.2" width="3" height="3" fill="#000"/>
<rect x="477.2" y="257.9" width="3" height="3" fill="#000"/>
<rect x="483.5" y="257.9" width="3" height="3" fill="#000"/>
<rect x="480.4" y="254.1" width="3" height="3" fill="#000"/>
<circle cx="496.9" cy="255.6" r="1.5" fill="#000"/>
<circle cx="503.1" cy="256.5" r="1.5" fill="#000"/>
<circle cx="494" cy="261" r="1.5" fill="#000"/>
<circle cx="505.6" cy="261" r="1.5" fill="#000"/>
<circle cx="499.5" cy="258" r="1.5" fill="#000"/>
<line x1="449.4" y1="191.5" x2="449.4" y2="262.95" stroke="#111" stroke-width="1.1"/>
<line x1="446" y1="262.4" x2="449.4" y2="262.4" stroke="#111" stroke-width="0.9"/>
<text x="443.4" y="264.88" font-size="6.9" text-anchor="end" stroke="#1c1c1c" stroke-width="0.3">0</text>
<line x1="446" y1="253.85" x2="449.4" y2="253.85" stroke="#111" stroke-width="0.9"/>
<text x="443.4" y="256.33" font-size="6.9" text-anchor="end" stroke="#1c1c1c" stroke-width="0.3">10</text>
<line x1="446" y1="245.3" x2="449.4" y2="245.3" stroke="#111" stroke-width="0.9"/>
<text x="443.4" y="247.78" font-size="6.9" text-anchor="end" stroke="#1c1c1c" stroke-width="0.3">20</text>
<line x1="446" y1="236.75" x2="449.4" y2="236.75" stroke="#111" stroke-width="0.9"/>
<text x="443.4" y="239.23" font-size="6.9" text-anchor="end" stroke="#1c1c1c" stroke-width="0.3">30</text>
<line x1="446" y1="228.2" x2="449.4" y2="228.2" stroke="#111" stroke-width="0.9"/>
<text x="443.4" y="230.68" font-size="6.9" text-anchor="end" stroke="#1c1c1c" stroke-width="0.3">40</text>
<line x1="446" y1="219.65" x2="449.4" y2="219.65" stroke="#111" stroke-width="0.9"/>
<text x="443.4" y="222.13" font-size="6.9" text-anchor="end" stroke="#1c1c1c" stroke-width="0.3">50</text>
<line x1="446" y1="211.1" x2="449.4" y2="211.1" stroke="#111" stroke-width="0.9"/>
<text x="443.4" y="213.58" font-size="6.9" text-anchor="end" stroke="#1c1c1c" stroke-width="0.3">60</text>
<line x1="446" y1="202.55" x2="449.4" y2="202.55" stroke="#111" stroke-width="0.9"/>
<text x="443.4" y="205.03" font-size="6.9" text-anchor="end" stroke="#1c1c1c" stroke-width="0.3">70</text>
<line x1="446" y1="194" x2="449.4" y2="194" stroke="#111" stroke-width="0.9"/>
<text x="443.4" y="196.48" font-size="6.9" text-anchor="end" stroke="#1c1c1c" stroke-width="0.3">80</text>
<line x1="448.9" y1="262.4" x2="511.3" y2="262.4" stroke="#111" stroke-width="1.2"/>
<text x="481.3" y="165.4" font-size="8.8" text-anchor="middle" textLength="37.74" lengthAdjust="spacingAndGlyphs" stroke="#1c1c1c" stroke-width="0.3">Thrombin</text>
<line x1="462.8" y1="169.3" x2="499.8" y2="169.3" stroke="#333" stroke-width="1"/>
<text x="484.25" y="180.09" font-size="5.8" text-anchor="middle" textLength="19.05" lengthAdjust="spacingAndGlyphs" fill="#333" stroke="#333" stroke-width="0.3"><tspan font-style="italic">P</tspan> &lt; .05</text>
<line x1="461.9" y1="182.3" x2="504.4" y2="182.3" stroke="#383838" stroke-width="1.1"/>
<text x="474.4" y="191.29" font-size="5.8" text-anchor="middle" textLength="18.95" lengthAdjust="spacingAndGlyphs" fill="#333" stroke="#333" stroke-width="0.3"><tspan font-style="italic">P</tspan> &lt; .05</text>
<line x1="462" y1="192.4" x2="484.3" y2="192.4" stroke="#383838" stroke-width="1.1"/>
<text x="462.7" y="272.05" font-size="6.8" text-anchor="middle" stroke="#1c1c1c" stroke-width="0.3">0</text>
<text x="479.2" y="272.05" font-size="6.8" text-anchor="middle" stroke="#1c1c1c" stroke-width="0.3">50</text>
<text x="496.9" y="272.05" font-size="6.8" text-anchor="middle" stroke="#1c1c1c" stroke-width="0.3">100</text>
<line x1="456.9" y1="276.7" x2="503" y2="276.7" stroke="#333" stroke-width="1"/>
<text x="480.6" y="288.53" font-size="8.7" text-anchor="middle" textLength="42.02" lengthAdjust="spacingAndGlyphs" stroke="#1c1c1c" stroke-width="0.3">ML265 (μM)</text>
<text transform="translate(418.6 226.6) rotate(-90)" font-size="9.6" text-anchor="middle" textLength="60.6" lengthAdjust="spacingAndGlyphs" stroke="#1c1c1c" stroke-width="0.3">% of luminescence</text>
<text transform="translate(429.8 226.5) rotate(-90)" font-size="8.4" text-anchor="middle" textLength="49.49" lengthAdjust="spacingAndGlyphs" stroke="#1c1c1c" stroke-width="0.3">(ATP secretion)</text>
<text x="8.5" y="310.98" font-size="11.5" font-weight="bold" fill="#000" stroke="#000" stroke-width="0.3">E</text>
<defs>
<linearGradient id="edgeH" x1="0" x2="1" y1="0" y2="0">
 <stop offset="0" stop-color="#1a0a08" stop-opacity="0.5"/>
 <stop offset="0.1" stop-color="#fff" stop-opacity="0.04"/>
 <stop offset="0.2" stop-color="#fff" stop-opacity="0.07"/>
 <stop offset="0.35" stop-color="#fff" stop-opacity="0.0"/>
 <stop offset="0.6" stop-color="#fff" stop-opacity="0.03"/>
 <stop offset="0.82" stop-color="#fff" stop-opacity="0.07"/>
 <stop offset="0.93" stop-color="#fff" stop-opacity="0.02"/>
 <stop offset="1" stop-color="#1a0a08" stop-opacity="0.5"/>
</linearGradient>
<linearGradient id="redV" x1="0" x2="0" y1="0" y2="1">
 <stop offset="0" stop-color="#B42E38"/>
 <stop offset="0.25" stop-color="#A8222C"/>
 <stop offset="0.85" stop-color="#A5202A"/>
 <stop offset="1" stop-color="#B42832"/>
</linearGradient>
<linearGradient id="tanV" x1="0" x2="0" y1="0" y2="1">
 <stop offset="0" stop-color="#4A3C32"/>
 <stop offset="0.14" stop-color="#928272"/>
 <stop offset="0.5" stop-color="#A29484"/>
 <stop offset="0.8" stop-color="#A89484"/>
 <stop offset="1" stop-color="#B08C7C"/>
</linearGradient>
<linearGradient id="grayTop" x1="0" x2="0" y1="0" y2="1">
 <stop offset="0" stop-color="#8C7C84" stop-opacity="0.9"/>
 <stop offset="0.45" stop-color="#987078" stop-opacity="0.55"/>
 <stop offset="1" stop-color="#A05060" stop-opacity="0"/>
</linearGradient>
<linearGradient id="redV3" x1="0" x2="0" y1="0" y2="1">
 <stop offset="0" stop-color="#B0323C"/>
 <stop offset="0.6" stop-color="#B92D37"/>
 <stop offset="0.88" stop-color="#C82837"/>
 <stop offset="1" stop-color="#D2283A"/>
</linearGradient>
<linearGradient id="serumV" x1="0" x2="0" y1="0" y2="1">
 <stop offset="0" stop-color="#A88070" stop-opacity="0"/>
 <stop offset="0.4" stop-color="#B08878" stop-opacity="0.75"/>
 <stop offset="1" stop-color="#B08878" stop-opacity="0.8"/>
</linearGradient>
<linearGradient id="botGlow" x1="0" x2="0" y1="0" y2="1">
 <stop offset="0" stop-color="#D86048" stop-opacity="0"/>
 <stop offset="0.5" stop-color="#D86048" stop-opacity="0.75"/>
 <stop offset="1" stop-color="#E07058" stop-opacity="0.85"/>
</linearGradient>
<linearGradient id="streakH" x1="0" x2="1" y1="0" y2="0">
 <stop offset="0.04" stop-color="#fff" stop-opacity="0"/>
 <stop offset="0.09" stop-color="#fff" stop-opacity="0.16"/>
 <stop offset="0.14" stop-color="#fff" stop-opacity="0.02"/>
 <stop offset="0.22" stop-color="#fff" stop-opacity="0.12"/>
 <stop offset="0.28" stop-color="#fff" stop-opacity="0.0"/>
 <stop offset="0.36" stop-color="#fff" stop-opacity="0.08"/>
 <stop offset="0.44" stop-color="#fff" stop-opacity="0.02"/>
 <stop offset="0.52" stop-color="#fff" stop-opacity="0.1"/>
 <stop offset="0.6" stop-color="#fff" stop-opacity="0.0"/>
 <stop offset="0.68" stop-color="#fff" stop-opacity="0.09"/>
 <stop offset="0.76" stop-color="#fff" stop-opacity="0.02"/>
 <stop offset="0.84" stop-color="#fff" stop-opacity="0.16"/>
 <stop offset="0.9" stop-color="#fff" stop-opacity="0.03"/>
 <stop offset="0.96" stop-color="#fff" stop-opacity="0.1"/>
</linearGradient>
<filter id="soft" x="-0.2" y="-0.2" width="1.4" height="1.4"><feGaussianBlur stdDeviation="0.5"/></filter>
<filter id="soft2" x="-0.3" y="-0.3" width="1.6" height="1.6"><feGaussianBlur stdDeviation="1.2"/></filter>
</defs>
<rect x="63.9" y="317.8" width="24.2" height="42" fill="#241816"/>
<rect x="65" y="318.8" width="22" height="40" fill="url(#redV)"/>
<rect x="65" y="318.8" width="22" height="2.4" fill="#2e2626" opacity="0.9"/>
<circle cx="73.5" cy="320.8" r="0.75" fill="#f0e8e8"/>
<circle cx="78.1" cy="320.8" r="0.75" fill="#f0e8e8"/>
<rect x="73.3" y="332.8" width="0.7" height="23" fill="#F0C8C8" opacity="0.25"/>
<g filter="url(#soft)">
<path d="M65.8 355.2 Q76 358.4 86.2 355.2" stroke="#F4D8D0" stroke-width="1" fill="none" opacity="0.75"/>
</g>
<rect x="65" y="321.2" width="22" height="37.6" fill="url(#streakH)"/>
<rect x="65" y="318.8" width="22" height="40" fill="url(#edgeH)"/>
<rect x="91.8" y="317.8" width="24.2" height="42" fill="#241816"/>
<rect x="92.9" y="318.8" width="22" height="40" fill="url(#tanV)"/>
<g filter="url(#soft)">
<path d="M92.9 322.2 Q103.9 328.8 114.9 322.2" stroke="#D08450" stroke-width="2" fill="none" opacity="0.9"/>
</g>
<g filter="url(#soft)">
<path d="M96.3 323.4 H111.4 V340.4 Q111.4 342.4 109.4 342.4 H98.3 Q96.3 342.4 96.3 340.4 Z" stroke="none" stroke-width="1" fill="#AA192D"/>
</g>
<rect x="92.9" y="351.3" width="22" height="5" fill="url(#botGlow)"/>
<rect x="92.9" y="318.8" width="22" height="2.4" fill="#2e2626" opacity="0.9"/>
<circle cx="101.4" cy="322.2" r="0.75" fill="#f0e8e8"/>
<circle cx="106" cy="322.2" r="0.75" fill="#f0e8e8"/>
<rect x="101.2" y="332.8" width="0.7" height="23" fill="#F0C8C8" opacity="0.25"/>
<g filter="url(#soft)">
<path d="M93.7 355.2 Q103.9 358.4 114.1 355.2" stroke="#F4D8D0" stroke-width="1" fill="none" opacity="0.75"/>
</g>
<rect x="92.9" y="321.2" width="22" height="37.6" fill="url(#streakH)"/>
<rect x="92.9" y="318.8" width="22" height="40" fill="url(#edgeH)"/>
<rect x="120" y="317.8" width="24.2" height="42" fill="#241816"/>
<rect x="121.1" y="318.8" width="22" height="40" fill="url(#tanV)"/>
<g filter="url(#soft)">
<path d="M121.1 322.2 Q132.1 328.8 143.1 322.2" stroke="#D08450" stroke-width="2" fill="none" opacity="0.9"/>
</g>
<g filter="url(#soft2)" opacity="0.22">
<path d="M132.85 338.3 q1 7 3 13 M131.85 338.3 q-1 6 -3 11" stroke="#C04050" stroke-width="1.4" fill="none"/>
</g>
<g filter="url(#soft)">
<path d="M127.5 325.8 H138.2 L136.92 336.7 Q136.92 338.3 134.99 338.3 H130.71 Q128.78 338.3 128.78 336.7 Z" stroke="none" stroke-width="1" fill="#AC1A2E"/>
</g>
<rect x="121.1" y="351.3" width="22" height="5" fill="url(#botGlow)"/>
<rect x="121.1" y="318.8" width="22" height="2.4" fill="#2e2626" opacity="0.9"/>
<circle cx="129.6" cy="322.2" r="0.75" fill="#f0e8e8"/>
<circle cx="134.2" cy="322.2" r="0.75" fill="#f0e8e8"/>
<rect x="129.4" y="332.8" width="0.7" height="23" fill="#F0C8C8" opacity="0.25"/>
<g filter="url(#soft)">
<path d="M121.9 355.2 Q132.1 358.4 142.3 355.2" stroke="#F4D8D0" stroke-width="1" fill="none" opacity="0.75"/>
</g>
<rect x="121.1" y="321.2" width="22" height="37.6" fill="url(#streakH)"/>
<rect x="121.1" y="318.8" width="22" height="40" fill="url(#edgeH)"/>
<rect x="148.2" y="317.8" width="24.2" height="42" fill="#241816"/>
<rect x="149.3" y="318.8" width="22" height="40" fill="url(#tanV)"/>
<g filter="url(#soft)">
<path d="M149.3 322.2 Q160.3 328.8 171.3 322.2" stroke="#D08450" stroke-width="2" fill="none" opacity="0.9"/>
</g>
<g filter="url(#soft2)" opacity="0.22">
<path d="M161.3 335.7 q1 7 3 13 M160.3 335.7 q-1 6 -3 11" stroke="#C04050" stroke-width="1.4" fill="none"/>
</g>
<g filter="url(#soft)">
<path d="M157 325.8 H165.6 L164.57 334.1 Q164.57 335.7 163.02 335.7 H159.58 Q158.03 335.7 158.03 334.1 Z" stroke="none" stroke-width="1" fill="#AC1A2E"/>
</g>
<rect x="149.3" y="351.3" width="22" height="5" fill="url(#botGlow)"/>
<rect x="149.3" y="318.8" width="22" height="2.4" fill="#2e2626" opacity="0.9"/>
<circle cx="157.8" cy="322.2" r="0.75" fill="#f0e8e8"/>
<circle cx="162.4" cy="322.2" r="0.75" fill="#f0e8e8"/>
<rect x="157.6" y="332.8" width="0.7" height="23" fill="#F0C8C8" opacity="0.25"/>
<g filter="url(#soft)">
<path d="M150.1 355.2 Q160.3 358.4 170.5 355.2" stroke="#F4D8D0" stroke-width="1" fill="none" opacity="0.75"/>
</g>
<rect x="149.3" y="321.2" width="22" height="37.6" fill="url(#streakH)"/>
<rect x="149.3" y="318.8" width="22" height="40" fill="url(#edgeH)"/>
<rect x="176.4" y="317.8" width="24.2" height="42" fill="#241816"/>
<rect x="177.5" y="318.8" width="22" height="40" fill="url(#tanV)"/>
<g filter="url(#soft)">
<path d="M177.5 322.2 Q188.5 328.8 199.5 322.2" stroke="#D08450" stroke-width="2" fill="none" opacity="0.9"/>
</g>
<g filter="url(#soft2)" opacity="0.22">
<path d="M189.2 335.2 q1 7 3 13 M188.2 335.2 q-1 6 -3 11" stroke="#C04050" stroke-width="1.4" fill="none"/>
</g>
<g filter="url(#soft)">
<path d="M185.2 325.8 H193.2 L192.24 333.6 Q192.24 335.2 190.8 335.2 H187.6 Q186.16 335.2 186.16 333.6 Z" stroke="none" stroke-width="1" fill="#AC1A2E"/>
</g>
<rect x="177.5" y="351.3" width="22" height="5" fill="url(#botGlow)"/>
<rect x="177.5" y="318.8" width="22" height="2.4" fill="#2e2626" opacity="0.9"/>
<circle cx="186" cy="322.2" r="0.75" fill="#f0e8e8"/>
<circle cx="190.6" cy="322.2" r="0.75" fill="#f0e8e8"/>
<rect x="185.8" y="332.8" width="0.7" height="23" fill="#F0C8C8" opacity="0.25"/>
<g filter="url(#soft)">
<path d="M178.3 355.2 Q188.5 358.4 198.7 355.2" stroke="#F4D8D0" stroke-width="1" fill="none" opacity="0.75"/>
</g>
<rect x="177.5" y="321.2" width="22" height="37.6" fill="url(#streakH)"/>
<rect x="177.5" y="318.8" width="22" height="40" fill="url(#edgeH)"/>
<rect x="63.9" y="363.4" width="24.2" height="42" fill="#241816"/>
<rect x="65" y="364.4" width="22" height="40" fill="url(#redV)"/>
<rect x="65" y="364.4" width="22" height="2.4" fill="#2e2626" opacity="0.9"/>
<circle cx="73.5" cy="366.4" r="0.75" fill="#f0e8e8"/>
<circle cx="78.1" cy="366.4" r="0.75" fill="#f0e8e8"/>
<rect x="73.3" y="378.4" width="0.7" height="23" fill="#F0C8C8" opacity="0.25"/>
<g filter="url(#soft)">
<path d="M65.8 400.8 Q76 404 86.2 400.8" stroke="#F4D8D0" stroke-width="1" fill="none" opacity="0.75"/>
</g>
<rect x="65" y="366.8" width="22" height="37.6" fill="url(#streakH)"/>
<rect x="65" y="364.4" width="22" height="40" fill="url(#edgeH)"/>
<rect x="91.8" y="363.4" width="24.2" height="42" fill="#241816"/>
<rect x="92.9" y="364.4" width="22" height="40" fill="url(#redV)"/>
<rect x="92.9" y="364.4" width="22" height="2.4" fill="#2e2626" opacity="0.9"/>
<circle cx="101.4" cy="366.4" r="0.75" fill="#f0e8e8"/>
<circle cx="106" cy="366.4" r="0.75" fill="#f0e8e8"/>
<rect x="101.2" y="378.4" width="0.7" height="23" fill="#F0C8C8" opacity="0.25"/>
<g filter="url(#soft)">
<path d="M93.7 400.8 Q103.9 404 114.1 400.8" stroke="#F4D8D0" stroke-width="1" fill="none" opacity="0.75"/>
</g>
<rect x="92.9" y="366.8" width="22" height="37.6" fill="url(#streakH)"/>
<rect x="92.9" y="364.4" width="22" height="40" fill="url(#edgeH)"/>
<rect x="120" y="363.4" width="24.2" height="42" fill="#241816"/>
<rect x="121.1" y="364.4" width="22" height="40" fill="url(#redV)"/>
<rect x="121.1" y="393.9" width="22" height="6.5" fill="url(#serumV)"/>
<rect x="121.1" y="364.4" width="22" height="2.4" fill="#2e2626" opacity="0.9"/>
<circle cx="129.6" cy="366.4" r="0.75" fill="#f0e8e8"/>
<circle cx="134.2" cy="366.4" r="0.75" fill="#f0e8e8"/>
<rect x="129.4" y="378.4" width="0.7" height="23" fill="#F0C8C8" opacity="0.25"/>
<g filter="url(#soft)">
<path d="M121.9 400.8 Q132.1 404 142.3 400.8" stroke="#F4D8D0" stroke-width="1" fill="none" opacity="0.75"/>
</g>
<rect x="121.1" y="366.8" width="22" height="37.6" fill="url(#streakH)"/>
<rect x="121.1" y="364.4" width="22" height="40" fill="url(#edgeH)"/>
<rect x="148.2" y="363.4" width="24.2" height="42" fill="#241816"/>
<rect x="149.3" y="364.4" width="22" height="40" fill="url(#tanV)"/>
<g filter="url(#soft)">
<path d="M149.3 364.4 H171.3 V390.4 C171.3 393.9 149.3 393.9 149.3 392.9 Z" stroke="none" stroke-width="1" fill="#A5202A"/>
</g>
<rect x="149.3" y="397.9" width="22" height="4" fill="url(#botGlow)" opacity="0.6"/>
<rect x="149.3" y="364.4" width="22" height="2.4" fill="#2e2626" opacity="0.9"/>
<circle cx="157.8" cy="366.4" r="0.75" fill="#f0e8e8"/>
<circle cx="162.4" cy="366.4" r="0.75" fill="#f0e8e8"/>
<rect x="157.6" y="378.4" width="0.7" height="23" fill="#F0C8C8" opacity="0.25"/>
<g filter="url(#soft)">
<path d="M150.1 400.8 Q160.3 404 170.5 400.8" stroke="#F4D8D0" stroke-width="1" fill="none" opacity="0.75"/>
</g>
<rect x="149.3" y="366.8" width="22" height="37.6" fill="url(#streakH)"/>
<rect x="149.3" y="364.4" width="22" height="40" fill="url(#edgeH)"/>
<rect x="176.4" y="363.4" width="24.2" height="42" fill="#241816"/>
<rect x="177.5" y="364.4" width="22" height="40" fill="url(#tanV)"/>
<g filter="url(#soft)">
<path d="M177.5 364.4 H199.5 V382.9 C199.5 389.9 177.5 389.9 177.5 382.9 Z" stroke="none" stroke-width="1" fill="#A5202A"/>
</g>
<rect x="177.5" y="397.9" width="22" height="4" fill="url(#botGlow)" opacity="0.6"/>
<rect x="177.5" y="364.4" width="22" height="2.4" fill="#2e2626" opacity="0.9"/>
<circle cx="186" cy="366.4" r="0.75" fill="#f0e8e8"/>
<circle cx="190.6" cy="366.4" r="0.75" fill="#f0e8e8"/>
<rect x="185.8" y="378.4" width="0.7" height="23" fill="#F0C8C8" opacity="0.25"/>
<g filter="url(#soft)">
<path d="M178.3 400.8 Q188.5 404 198.7 400.8" stroke="#F4D8D0" stroke-width="1" fill="none" opacity="0.75"/>
</g>
<rect x="177.5" y="366.8" width="22" height="37.6" fill="url(#streakH)"/>
<rect x="177.5" y="364.4" width="22" height="40" fill="url(#edgeH)"/>
<rect x="63.9" y="407.7" width="24.2" height="42" fill="#241816"/>
<rect x="65" y="408.7" width="22" height="40" fill="url(#redV3)"/>
<rect x="65" y="408.7" width="22" height="2.4" fill="#2e2626" opacity="0.9"/>
<circle cx="73.5" cy="410.7" r="0.75" fill="#f0e8e8"/>
<circle cx="78.1" cy="410.7" r="0.75" fill="#f0e8e8"/>
<rect x="73.3" y="422.7" width="0.7" height="23" fill="#F0C8C8" opacity="0.25"/>
<g filter="url(#soft)">
<path d="M65.8 445.1 Q76 448.3 86.2 445.1" stroke="#F4D8D0" stroke-width="1" fill="none" opacity="0.75"/>
</g>
<rect x="65" y="411.1" width="22" height="37.6" fill="url(#streakH)"/>
<rect x="65" y="408.7" width="22" height="40" fill="url(#edgeH)"/>
<rect x="91.8" y="407.7" width="24.2" height="42" fill="#241816"/>
<rect x="92.9" y="408.7" width="22" height="40" fill="url(#redV3)"/>
<rect x="92.9" y="410.9" width="22" height="11" fill="url(#grayTop)"/>
<path d="M92.9 411.3 Q103.9 413.9 114.9 411.3" stroke="#8890B8" stroke-width="0.8" fill="none" opacity="0.6"/>
<rect x="92.9" y="408.7" width="22" height="2.4" fill="#2e2626" opacity="0.9"/>
<circle cx="101.4" cy="410.7" r="0.75" fill="#f0e8e8"/>
<circle cx="106" cy="410.7" r="0.75" fill="#f0e8e8"/>
<rect x="101.2" y="422.7" width="0.7" height="23" fill="#F0C8C8" opacity="0.25"/>
<g filter="url(#soft)">
<path d="M93.7 445.1 Q103.9 448.3 114.1 445.1" stroke="#F4D8D0" stroke-width="1" fill="none" opacity="0.75"/>
</g>
<rect x="92.9" y="411.1" width="22" height="37.6" fill="url(#streakH)"/>
<rect x="92.9" y="408.7" width="22" height="40" fill="url(#edgeH)"/>
<rect x="120" y="407.7" width="24.2" height="42" fill="#241816"/>
<rect x="121.1" y="408.7" width="22" height="40" fill="url(#redV3)"/>
<rect x="121.1" y="410.9" width="22" height="14" fill="url(#grayTop)"/>
<path d="M121.1 411.3 Q132.1 413.9 143.1 411.3" stroke="#8890B8" stroke-width="0.8" fill="none" opacity="0.6"/>
<rect x="121.1" y="408.7" width="22" height="2.4" fill="#2e2626" opacity="0.9"/>
<circle cx="129.6" cy="410.7" r="0.75" fill="#f0e8e8"/>
<circle cx="134.2" cy="410.7" r="0.75" fill="#f0e8e8"/>
<rect x="129.4" y="422.7" width="0.7" height="23" fill="#F0C8C8" opacity="0.25"/>
<g filter="url(#soft)">
<path d="M121.9 445.1 Q132.1 448.3 142.3 445.1" stroke="#F4D8D0" stroke-width="1" fill="none" opacity="0.75"/>
</g>
<rect x="121.1" y="411.1" width="22" height="37.6" fill="url(#streakH)"/>
<rect x="121.1" y="408.7" width="22" height="40" fill="url(#edgeH)"/>
<rect x="148.2" y="407.7" width="24.2" height="42" fill="#241816"/>
<rect x="149.3" y="408.7" width="22" height="40" fill="url(#redV3)"/>
<rect x="149.3" y="410.9" width="22" height="17" fill="url(#grayTop)"/>
<path d="M149.3 411.3 Q160.3 413.9 171.3 411.3" stroke="#8890B8" stroke-width="0.8" fill="none" opacity="0.6"/>
<rect x="149.3" y="408.7" width="22" height="2.4" fill="#2e2626" opacity="0.9"/>
<circle cx="157.8" cy="410.7" r="0.75" fill="#f0e8e8"/>
<circle cx="162.4" cy="410.7" r="0.75" fill="#f0e8e8"/>
<rect x="157.6" y="422.7" width="0.7" height="23" fill="#F0C8C8" opacity="0.25"/>
<g filter="url(#soft)">
<path d="M150.1 445.1 Q160.3 448.3 170.5 445.1" stroke="#F4D8D0" stroke-width="1" fill="none" opacity="0.75"/>
</g>
<rect x="149.3" y="411.1" width="22" height="37.6" fill="url(#streakH)"/>
<rect x="149.3" y="408.7" width="22" height="40" fill="url(#edgeH)"/>
<rect x="176.4" y="407.7" width="24.2" height="42" fill="#241816"/>
<rect x="177.5" y="408.7" width="22" height="40" fill="url(#redV3)"/>
<rect x="177.5" y="410.9" width="22" height="19" fill="url(#grayTop)"/>
<path d="M177.5 411.3 Q188.5 413.9 199.5 411.3" stroke="#8890B8" stroke-width="0.8" fill="none" opacity="0.6"/>
<rect x="177.5" y="408.7" width="22" height="2.4" fill="#2e2626" opacity="0.9"/>
<circle cx="186" cy="410.7" r="0.75" fill="#f0e8e8"/>
<circle cx="190.6" cy="410.7" r="0.75" fill="#f0e8e8"/>
<rect x="185.8" y="422.7" width="0.7" height="23" fill="#F0C8C8" opacity="0.25"/>
<g filter="url(#soft)">
<path d="M178.3 445.1 Q188.5 448.3 198.7 445.1" stroke="#F4D8D0" stroke-width="1" fill="none" opacity="0.75"/>
</g>
<rect x="177.5" y="411.1" width="22" height="37.6" fill="url(#streakH)"/>
<rect x="177.5" y="408.7" width="22" height="40" fill="url(#edgeH)"/>
<text x="46.15" y="337.22" font-size="9.5" text-anchor="middle" textLength="28.25" lengthAdjust="spacingAndGlyphs" stroke="#1c1c1c" stroke-width="0.3">Vehicle</text>
<text x="47" y="382.32" font-size="9.5" text-anchor="middle" textLength="27.54" lengthAdjust="spacingAndGlyphs" stroke="#1c1c1c" stroke-width="0.3">ML265</text>
<text x="45.25" y="392.72" font-size="9.5" text-anchor="middle" textLength="31.11" lengthAdjust="spacingAndGlyphs" stroke="#1c1c1c" stroke-width="0.3">(50 μM)</text>
<text x="47" y="419.92" font-size="9.5" text-anchor="middle" textLength="27.54" lengthAdjust="spacingAndGlyphs" stroke="#1c1c1c" stroke-width="0.3">ML265</text>
<text x="42.95" y="429.62" font-size="9.5" text-anchor="middle" textLength="35.8" lengthAdjust="spacingAndGlyphs" stroke="#1c1c1c" stroke-width="0.3">(100 μM)</text>
<text x="40.05" y="460.82" font-size="9.5" text-anchor="middle" textLength="41.72" lengthAdjust="spacingAndGlyphs" stroke="#1c1c1c" stroke-width="0.3">Time (min)</text>
<text x="78.5" y="460.5" font-size="8.6" text-anchor="middle" stroke="#1c1c1c" stroke-width="0.3">0</text>
<text x="100.9" y="460.5" font-size="8.6" text-anchor="middle" stroke="#1c1c1c" stroke-width="0.3">15</text>
<text x="130.5" y="460.5" font-size="8.6" text-anchor="middle" stroke="#1c1c1c" stroke-width="0.3">30</text>
<text x="155.4" y="460.5" font-size="8.6" text-anchor="middle" stroke="#1c1c1c" stroke-width="0.3">45</text>
<text x="180.4" y="460.5" font-size="8.6" text-anchor="middle" stroke="#1c1c1c" stroke-width="0.3">60</text>
<line x1="246.3" y1="323" x2="246.3" y2="450.05" stroke="#111" stroke-width="1.1"/>
<line x1="242.9" y1="427.12" x2="246.3" y2="427.12" stroke="#111" stroke-width="0.9"/>
<text x="239.8" y="429.78" font-size="7.4" text-anchor="end" stroke="#1c1c1c" stroke-width="0.3">20</text>
<line x1="242.9" y1="404.24" x2="246.3" y2="404.24" stroke="#111" stroke-width="0.9"/>
<text x="239.8" y="406.9" font-size="7.4" text-anchor="end" stroke="#1c1c1c" stroke-width="0.3">40</text>
<line x1="242.9" y1="381.36" x2="246.3" y2="381.36" stroke="#111" stroke-width="0.9"/>
<text x="239.8" y="384.02" font-size="7.4" text-anchor="end" stroke="#1c1c1c" stroke-width="0.3">60</text>
<line x1="242.9" y1="358.48" x2="246.3" y2="358.48" stroke="#111" stroke-width="0.9"/>
<text x="239.8" y="361.14" font-size="7.4" text-anchor="end" stroke="#1c1c1c" stroke-width="0.3">80</text>
<line x1="242.9" y1="335.6" x2="246.3" y2="335.6" stroke="#111" stroke-width="0.9"/>
<text x="239.8" y="338.26" font-size="7.4" text-anchor="end" stroke="#1c1c1c" stroke-width="0.3">100</text>
<line x1="245.8" y1="449.5" x2="438.5" y2="449.5" stroke="#111" stroke-width="1.2"/>
<line x1="246.3" y1="449.5" x2="246.3" y2="452.5" stroke="#111" stroke-width="0.9"/>
<line x1="293.5" y1="449.5" x2="293.5" y2="452.5" stroke="#111" stroke-width="0.9"/>
<line x1="340.71" y1="449.5" x2="340.71" y2="452.5" stroke="#111" stroke-width="0.9"/>
<line x1="387.91" y1="449.5" x2="387.91" y2="452.5" stroke="#111" stroke-width="0.9"/>
<line x1="435.12" y1="449.5" x2="435.12" y2="452.5" stroke="#111" stroke-width="0.9"/>
<text x="246" y="462.96" font-size="7.4" text-anchor="middle" stroke="#1c1c1c" stroke-width="0.3">0</text>
<text x="293.2" y="462.96" font-size="7.4" text-anchor="middle" stroke="#1c1c1c" stroke-width="0.3">15</text>
<text x="340.41" y="462.96" font-size="7.4" text-anchor="middle" stroke="#1c1c1c" stroke-width="0.3">30</text>
<text x="387.61" y="462.96" font-size="7.4" text-anchor="middle" stroke="#1c1c1c" stroke-width="0.3">45</text>
<text x="434.82" y="462.96" font-size="7.4" text-anchor="middle" stroke="#1c1c1c" stroke-width="0.3">60</text>
<text x="342.5" y="475.45" font-size="8.2" text-anchor="middle" textLength="36.72" lengthAdjust="spacingAndGlyphs" stroke="#1c1c1c" stroke-width="0.3">Time (min)</text>
<text transform="translate(222.2 386.5) rotate(-90)" font-size="8.6" text-anchor="middle" textLength="50.5" lengthAdjust="spacingAndGlyphs" stroke="#1c1c1c" stroke-width="0.3">Clot size (mm<tspan font-size="5.2" dy="-3.2">2</tspan><tspan dy="3.2">)</tspan></text>
<path d="M246.3 335.6 L293.5 335.1 L340.71 338.5 L387.91 345.5 L435.12 345.8" stroke="#6DBA4A" stroke-width="1.1" fill="none"/>
<path d="M246.3 335.6 L293.5 338.2 L340.71 350.3 L387.91 362.2 L435.12 371.4" stroke="#3C5A94" stroke-width="1.1" fill="none"/>
<path d="M246.3 335.6 L293.5 373.7 L340.71 394.3 L387.91 408.9 L435.12 419.3" stroke="#B81E40" stroke-width="1.1" fill="none"/>
<line x1="340.71" y1="334.3" x2="340.71" y2="342.5" stroke="#6DBA4A" stroke-width="1"/>
<line x1="338.41" y1="334.3" x2="343.01" y2="334.3" stroke="#6DBA4A" stroke-width="1"/>
<line x1="338.41" y1="342.5" x2="343.01" y2="342.5" stroke="#6DBA4A" stroke-width="1"/>
<line x1="387.91" y1="333.9" x2="387.91" y2="355.3" stroke="#6DBA4A" stroke-width="1"/>
<line x1="385.61" y1="333.9" x2="390.21" y2="333.9" stroke="#6DBA4A" stroke-width="1"/>
<line x1="385.61" y1="355.3" x2="390.21" y2="355.3" stroke="#6DBA4A" stroke-width="1"/>
<line x1="435.12" y1="336.3" x2="435.12" y2="354.1" stroke="#6DBA4A" stroke-width="1"/>
<line x1="432.82" y1="336.3" x2="437.42" y2="336.3" stroke="#6DBA4A" stroke-width="1"/>
<line x1="432.82" y1="354.1" x2="437.42" y2="354.1" stroke="#6DBA4A" stroke-width="1"/>
<line x1="293.5" y1="336" x2="293.5" y2="340.5" stroke="#3C5A94" stroke-width="1"/>
<line x1="291.2" y1="336" x2="295.81" y2="336" stroke="#3C5A94" stroke-width="1"/>
<line x1="291.2" y1="340.5" x2="295.81" y2="340.5" stroke="#3C5A94" stroke-width="1"/>
<line x1="340.71" y1="346.3" x2="340.71" y2="354.1" stroke="#3C5A94" stroke-width="1"/>
<line x1="338.41" y1="346.3" x2="343.01" y2="346.3" stroke="#3C5A94" stroke-width="1"/>
<line x1="338.41" y1="354.1" x2="343.01" y2="354.1" stroke="#3C5A94" stroke-width="1"/>
<line x1="387.91" y1="350.1" x2="387.91" y2="374.9" stroke="#3C5A94" stroke-width="1"/>
<line x1="385.61" y1="350.1" x2="390.21" y2="350.1" stroke="#3C5A94" stroke-width="1"/>
<line x1="385.61" y1="374.9" x2="390.21" y2="374.9" stroke="#3C5A94" stroke-width="1"/>
<line x1="435.12" y1="356.7" x2="435.12" y2="386.1" stroke="#3C5A94" stroke-width="1"/>
<line x1="432.82" y1="356.7" x2="437.42" y2="356.7" stroke="#3C5A94" stroke-width="1"/>
<line x1="432.82" y1="386.1" x2="437.42" y2="386.1" stroke="#3C5A94" stroke-width="1"/>
<line x1="293.5" y1="362.2" x2="293.5" y2="385.8" stroke="#B81E40" stroke-width="1"/>
<line x1="291.2" y1="362.2" x2="295.81" y2="362.2" stroke="#B81E40" stroke-width="1"/>
<line x1="291.2" y1="385.8" x2="295.81" y2="385.8" stroke="#B81E40" stroke-width="1"/>
<line x1="340.71" y1="378.9" x2="340.71" y2="410" stroke="#B81E40" stroke-width="1"/>
<line x1="338.41" y1="378.9" x2="343.01" y2="378.9" stroke="#B81E40" stroke-width="1"/>
<line x1="338.41" y1="410" x2="343.01" y2="410" stroke="#B81E40" stroke-width="1"/>
<line x1="387.91" y1="394.3" x2="387.91" y2="423.4" stroke="#B81E40" stroke-width="1"/>
<line x1="385.61" y1="394.3" x2="390.21" y2="394.3" stroke="#B81E40" stroke-width="1"/>
<line x1="385.61" y1="423.4" x2="390.21" y2="423.4" stroke="#B81E40" stroke-width="1"/>
<line x1="435.12" y1="407.7" x2="435.12" y2="430.1" stroke="#B81E40" stroke-width="1"/>
<line x1="432.82" y1="407.7" x2="437.42" y2="407.7" stroke="#B81E40" stroke-width="1"/>
<line x1="432.82" y1="430.1" x2="437.42" y2="430.1" stroke="#B81E40" stroke-width="1"/>
<path d="M246.3 332.8 L249 337.4 L243.6 337.4 Z" stroke="none" stroke-width="1" fill="#6DBA4A"/>
<path d="M293.5 332.3 L296.2 336.9 L290.81 336.9 Z" stroke="none" stroke-width="1" fill="#6DBA4A"/>
<path d="M340.71 335.7 L343.41 340.3 L338.01 340.3 Z" stroke="none" stroke-width="1" fill="#6DBA4A"/>
<path d="M387.91 342.7 L390.61 347.3 L385.21 347.3 Z" stroke="none" stroke-width="1" fill="#6DBA4A"/>
<path d="M435.12 343 L437.82 347.6 L432.42 347.6 Z" stroke="none" stroke-width="1" fill="#6DBA4A"/>
<rect x="244" y="333.3" width="4.6" height="4.6" fill="#2C4B85"/>
<rect x="291.2" y="335.9" width="4.6" height="4.6" fill="#2C4B85"/>
<rect x="338.41" y="348" width="4.6" height="4.6" fill="#2C4B85"/>
<rect x="385.61" y="359.9" width="4.6" height="4.6" fill="#2C4B85"/>
<rect x="432.82" y="369.1" width="4.6" height="4.6" fill="#2C4B85"/>
<circle cx="246.3" cy="335.6" r="2.8" fill="#A8002C"/>
<circle cx="293.5" cy="373.7" r="2.8" fill="#A8002C"/>
<circle cx="340.71" cy="394.3" r="2.8" fill="#A8002C"/>
<circle cx="387.91" cy="408.9" r="2.8" fill="#A8002C"/>
<circle cx="435.12" cy="419.3" r="2.8" fill="#A8002C"/>
<circle cx="293.5" cy="322.3" r="0.85" fill="#333"/>
<circle cx="340.7" cy="323" r="0.85" fill="#333"/>
<circle cx="340.7" cy="360.2" r="0.85" fill="#333"/>
<circle cx="387.9" cy="323" r="0.85" fill="#333"/>
<circle cx="387.9" cy="380" r="0.85" fill="#333"/>
<circle cx="435.1" cy="327.3" r="0.85" fill="#333"/>
<circle cx="435.1" cy="391.3" r="0.85" fill="#333"/>
<line x1="255.7" y1="424.2" x2="262.7" y2="424.2" stroke="#B81E40" stroke-width="1"/>
<circle cx="259.2" cy="424.2" r="1.6" fill="#A8002C"/>
<line x1="255.7" y1="431.9" x2="262.7" y2="431.9" stroke="#3C5A94" stroke-width="1"/>
<rect x="257.8" y="430.5" width="2.8" height="2.8" fill="#2C4B85"/>
<line x1="255.7" y1="439.7" x2="262.7" y2="439.7" stroke="#6DBA4A" stroke-width="1"/>
<path d="M259.2 437.9 L261 440.9 L257.4 440.9 Z" stroke="none" stroke-width="1" fill="#6DBA4A"/>
<text x="277.2" y="426.65" font-size="6.8" text-anchor="middle" textLength="23.05" lengthAdjust="spacingAndGlyphs" stroke="#1c1c1c" stroke-width="0.3">Vehicle</text>
<text x="288.75" y="434.35" font-size="6.8" text-anchor="middle" textLength="46.61" lengthAdjust="spacingAndGlyphs" stroke="#1c1c1c" stroke-width="0.3">ML265 (50μM)</text>
<text x="290.85" y="442.15" font-size="6.8" text-anchor="middle" textLength="50.9" lengthAdjust="spacingAndGlyphs" stroke="#1c1c1c" stroke-width="0.3">ML265 (100μM)</text>
<text x="8.5" y="498.38" font-size="11.5" font-weight="bold" fill="#000" stroke="#000" stroke-width="0.3">F</text>
<defs>
<filter id="sv0" x="0" y="0" width="1" height="1" color-interpolation-filters="sRGB"><feTurbulence type="fractalNoise" baseFrequency="0.45 0.36" numOctaves="2" seed="7" result="n1"/><feColorMatrix in="n1" type="matrix" values="1 0 0 0 0  1 0 0 0 0  1 0 0 0 0  0 0 0 0 1" result="g1"/><feTurbulence type="fractalNoise" baseFrequency="0.07 0.09" numOctaves="2" seed="107" result="n2"/><feColorMatrix in="n2" type="matrix" values="1 0 0 0 0  1 0 0 0 0  1 0 0 0 0  0 0 0 0 1" result="g2"/><feComposite in="g1" in2="g2" operator="arithmetic" k1="0" k2="0.7" k3="0.5" k4="-0.1" result="m"/><feColorMatrix in="m" type="matrix" values="0 0 0 0 1  0 0 0 0 1  0 0 0 0 1  4 0 0 0 -2.4"/></filter>
<filter id="sv1" x="0" y="0" width="1" height="1" color-interpolation-filters="sRGB"><feTurbulence type="fractalNoise" baseFrequency="0.45 0.36" numOctaves="2" seed="7" result="n1"/><feColorMatrix in="n1" type="matrix" values="1 0 0 0 0  1 0 0 0 0  1 0 0 0 0  0 0 0 0 1" result="g1"/><feTurbulence type="fractalNoise" baseFrequency="0.07 0.09" numOctaves="2" seed="107" result="n2"/><feColorMatrix in="n2" type="matrix" values="1 0 0 0 0  1 0 0 0 0  1 0 0 0 0  0 0 0 0 1" result="g2"/><feComposite in="g1" in2="g2" operator="arithmetic" k1="0" k2="0.7" k3="0.5" k4="-0.1" result="m"/><feColorMatrix in="m" type="matrix" values="0 0 0 0 1  0 0 0 0 1  0 0 0 0 1  4 0 0 0 -1.8"/></filter>
<filter id="sv2" x="0" y="0" width="1" height="1" color-interpolation-filters="sRGB"><feTurbulence type="fractalNoise" baseFrequency="0.45 0.36" numOctaves="2" seed="7" result="n1"/><feColorMatrix in="n1" type="matrix" values="1 0 0 0 0  1 0 0 0 0  1 0 0 0 0  0 0 0 0 1" result="g1"/><feTurbulence type="fractalNoise" baseFrequency="0.07 0.09" numOctaves="2" seed="107" result="n2"/><feColorMatrix in="n2" type="matrix" values="1 0 0 0 0  1 0 0 0 0  1 0 0 0 0  0 0 0 0 1" result="g2"/><feComposite in="g1" in2="g2" operator="arithmetic" k1="0" k2="0.7" k3="0.5" k4="-0.1" result="m"/><feColorMatrix in="m" type="matrix" values="0 0 0 0 1  0 0 0 0 1  0 0 0 0 1  4 0 0 0 -1.3"/></filter>
<filter id="sv3" x="0" y="0" width="1" height="1" color-interpolation-filters="sRGB"><feTurbulence type="fractalNoise" baseFrequency="0.45 0.36" numOctaves="2" seed="7" result="n1"/><feColorMatrix in="n1" type="matrix" values="1 0 0 0 0  1 0 0 0 0  1 0 0 0 0  0 0 0 0 1" result="g1"/><feTurbulence type="fractalNoise" baseFrequency="0.07 0.09" numOctaves="2" seed="107" result="n2"/><feColorMatrix in="n2" type="matrix" values="1 0 0 0 0  1 0 0 0 0  1 0 0 0 0  0 0 0 0 1" result="g2"/><feComposite in="g1" in2="g2" operator="arithmetic" k1="0" k2="0.7" k3="0.5" k4="-0.1" result="m"/><feColorMatrix in="m" type="matrix" values="0 0 0 0 1  0 0 0 0 1  0 0 0 0 1  4 0 0 0 -1.8"/></filter>
<filter id="sv4" x="0" y="0" width="1" height="1" color-interpolation-filters="sRGB"><feTurbulence type="fractalNoise" baseFrequency="0.45 0.36" numOctaves="2" seed="7" result="n1"/><feColorMatrix in="n1" type="matrix" values="1 0 0 0 0  1 0 0 0 0  1 0 0 0 0  0 0 0 0 1" result="g1"/><feTurbulence type="fractalNoise" baseFrequency="0.07 0.09" numOctaves="2" seed="107" result="n2"/><feColorMatrix in="n2" type="matrix" values="1 0 0 0 0  1 0 0 0 0  1 0 0 0 0  0 0 0 0 1" result="g2"/><feComposite in="g1" in2="g2" operator="arithmetic" k1="0" k2="0.7" k3="0.5" k4="-0.1" result="m"/><feColorMatrix in="m" type="matrix" values="0 0 0 0 1  0 0 0 0 1  0 0 0 0 1  4 0 0 0 -2.4"/></filter>
<filter id="sm0" x="0" y="0" width="1" height="1" color-interpolation-filters="sRGB"><feTurbulence type="fractalNoise" baseFrequency="0.45 0.36" numOctaves="2" seed="23" result="n1"/><feColorMatrix in="n1" type="matrix" values="1 0 0 0 0  1 0 0 0 0  1 0 0 0 0  0 0 0 0 1" result="g1"/><feTurbulence type="fractalNoise" baseFrequency="0.07 0.09" numOctaves="2" seed="123" result="n2"/><feColorMatrix in="n2" type="matrix" values="1 0 0 0 0  1 0 0 0 0  1 0 0 0 0  0 0 0 0 1" result="g2"/><feComposite in="g1" in2="g2" operator="arithmetic" k1="0" k2="0.62" k3="0.62" k4="-0.12" result="m"/><feColorMatrix in="m" type="matrix" values="0 0 0 0 1  0 0 0 0 1  0 0 0 0 1  4.6 0 0 0 -2.9"/></filter>
<filter id="sm1" x="0" y="0" width="1" height="1" color-interpolation-filters="sRGB"><feTurbulence type="fractalNoise" baseFrequency="0.45 0.36" numOctaves="2" seed="23" result="n1"/><feColorMatrix in="n1" type="matrix" values="1 0 0 0 0  1 0 0 0 0  1 0 0 0 0  0 0 0 0 1" result="g1"/><feTurbulence type="fractalNoise" baseFrequency="0.07 0.09" numOctaves="2" seed="123" result="n2"/><feColorMatrix in="n2" type="matrix" values="1 0 0 0 0  1 0 0 0 0  1 0 0 0 0  0 0 0 0 1" result="g2"/><feComposite in="g1" in2="g2" operator="arithmetic" k1="0" k2="0.62" k3="0.62" k4="-0.12" result="m"/><feColorMatrix in="m" type="matrix" values="0 0 0 0 1  0 0 0 0 1  0 0 0 0 1  4.6 0 0 0 -2.25"/></filter>
<filter id="sm2" x="0" y="0" width="1" height="1" color-interpolation-filters="sRGB"><feTurbulence type="fractalNoise" baseFrequency="0.45 0.36" numOctaves="2" seed="23" result="n1"/><feColorMatrix in="n1" type="matrix" values="1 0 0 0 0  1 0 0 0 0  1 0 0 0 0  0 0 0 0 1" result="g1"/><feTurbulence type="fractalNoise" baseFrequency="0.07 0.09" numOctaves="2" seed="123" result="n2"/><feColorMatrix in="n2" type="matrix" values="1 0 0 0 0  1 0 0 0 0  1 0 0 0 0  0 0 0 0 1" result="g2"/><feComposite in="g1" in2="g2" operator="arithmetic" k1="0" k2="0.62" k3="0.62" k4="-0.12" result="m"/><feColorMatrix in="m" type="matrix" values="0 0 0 0 1  0 0 0 0 1  0 0 0 0 1  4.6 0 0 0 -2.9"/></filter>
<filter id="fblur" x="0" y="0" width="1" height="1"><feGaussianBlur stdDeviation="0.35"/></filter>
</defs>
<rect x="31.6" y="514" width="133" height="95.8" fill="#161616"/>
<g filter="url(#fblur)">
<rect x="31.6" y="514" width="133" height="95.8" fill="#161616"/>
<rect x="31.6" y="520" width="133" height="31" fill="#2a2a2a"/>
<rect x="31.6" y="568" width="133" height="32" fill="#242424"/>
<rect x="31.6" y="520" width="133" height="2" fill="#fff" filter="url(#sv0)"/>
<rect x="31.6" y="522" width="133" height="2" fill="#fff" filter="url(#sv1)"/>
<rect x="31.6" y="524" width="133" height="23" fill="#fff" filter="url(#sv2)"/>
<rect x="31.6" y="547" width="133" height="2" fill="#fff" filter="url(#sv3)"/>
<rect x="31.6" y="549" width="133" height="2" fill="#fff" filter="url(#sv4)"/>
<rect x="31.6" y="568" width="133" height="2.5" fill="#fff" filter="url(#sm0)"/>
<rect x="31.6" y="570.5" width="133" height="27" fill="#fff" filter="url(#sm1)"/>
<rect x="31.6" y="597.5" width="133" height="2.5" fill="#fff" filter="url(#sm2)"/>
</g>
<text transform="translate(26.5 536.6) rotate(-90)" font-size="9.5" text-anchor="middle" textLength="27.67" lengthAdjust="spacingAndGlyphs" stroke="#1c1c1c" stroke-width="0.3">Vehicle</text>
<text transform="translate(26.5 585) rotate(-90)" font-size="9.5" text-anchor="middle" textLength="26.77" lengthAdjust="spacingAndGlyphs" stroke="#1c1c1c" stroke-width="0.3">ML265</text>
<line x1="214.2" y1="505.7" x2="214.2" y2="610.65" stroke="#111" stroke-width="1.1"/>
<line x1="210.8" y1="610" x2="214.2" y2="610" stroke="#111" stroke-width="0.9"/>
<text x="208.8" y="612.52" font-size="7" text-anchor="end" stroke="#1c1c1c" stroke-width="0.3">0</text>
<line x1="210.8" y1="593.01" x2="214.2" y2="593.01" stroke="#111" stroke-width="0.9"/>
<text x="208.8" y="595.53" font-size="7" text-anchor="end" stroke="#1c1c1c" stroke-width="0.3">5000</text>
<line x1="210.8" y1="576.03" x2="214.2" y2="576.03" stroke="#111" stroke-width="0.9"/>
<text x="208.8" y="578.55" font-size="7" text-anchor="end" stroke="#1c1c1c" stroke-width="0.3">10000</text>
<line x1="210.8" y1="559.04" x2="214.2" y2="559.04" stroke="#111" stroke-width="0.9"/>
<text x="208.8" y="561.56" font-size="7" text-anchor="end" stroke="#1c1c1c" stroke-width="0.3">15000</text>
<line x1="210.8" y1="542.06" x2="214.2" y2="542.06" stroke="#111" stroke-width="0.9"/>
<text x="208.8" y="544.58" font-size="7" text-anchor="end" stroke="#1c1c1c" stroke-width="0.3">20000</text>
<line x1="210.8" y1="525.08" x2="214.2" y2="525.08" stroke="#111" stroke-width="0.9"/>
<text x="208.8" y="527.6" font-size="7" text-anchor="end" stroke="#1c1c1c" stroke-width="0.3">25000</text>
<line x1="210.8" y1="508.09" x2="214.2" y2="508.09" stroke="#111" stroke-width="0.9"/>
<text x="208.8" y="510.61" font-size="7" text-anchor="end" stroke="#1c1c1c" stroke-width="0.3">30000</text>
<line x1="213.7" y1="610.1" x2="356.1" y2="610.1" stroke="#111" stroke-width="1.2"/>
<line x1="214.2" y1="610.1" x2="214.2" y2="613" stroke="#111" stroke-width="0.9"/>
<text x="214.2" y="623.26" font-size="7.4" text-anchor="middle" stroke="#1c1c1c" stroke-width="0.3">0</text>
<line x1="237.5" y1="610.1" x2="237.5" y2="613" stroke="#111" stroke-width="0.9"/>
<text x="237.5" y="623.26" font-size="7.4" text-anchor="middle" stroke="#1c1c1c" stroke-width="0.3">20</text>
<line x1="260.8" y1="610.1" x2="260.8" y2="613" stroke="#111" stroke-width="0.9"/>
<text x="260.8" y="623.26" font-size="7.4" text-anchor="middle" stroke="#1c1c1c" stroke-width="0.3">40</text>
<line x1="284.1" y1="610.1" x2="284.1" y2="613" stroke="#111" stroke-width="0.9"/>
<text x="284.1" y="623.26" font-size="7.4" text-anchor="middle" stroke="#1c1c1c" stroke-width="0.3">60</text>
<line x1="307.4" y1="610.1" x2="307.4" y2="613" stroke="#111" stroke-width="0.9"/>
<text x="307.4" y="623.26" font-size="7.4" text-anchor="middle" stroke="#1c1c1c" stroke-width="0.3">80</text>
<line x1="330.7" y1="610.1" x2="330.7" y2="613" stroke="#111" stroke-width="0.9"/>
<text x="330.7" y="623.26" font-size="7.4" text-anchor="middle" stroke="#1c1c1c" stroke-width="0.3">100</text>
<line x1="354" y1="610.1" x2="354" y2="613" stroke="#111" stroke-width="0.9"/>
<text x="354" y="623.26" font-size="7.4" text-anchor="middle" stroke="#1c1c1c" stroke-width="0.3">120</text>
<text x="286.1" y="635.65" font-size="8.2" text-anchor="middle" textLength="25.7" lengthAdjust="spacingAndGlyphs" stroke="#1c1c1c" stroke-width="0.3">Time (s)</text>
<text transform="translate(182.6 557.6) rotate(-90)" font-size="8.6" text-anchor="middle" textLength="92.42" lengthAdjust="spacingAndGlyphs" stroke="#1c1c1c" stroke-width="0.3">Thrombus growth (area A.U.)</text>
<line x1="214.2" y1="610" x2="354" y2="514.2" stroke="#B81E40" stroke-width="1.1"/>
<line x1="214.2" y1="610" x2="354" y2="595" stroke="#2C4B85" stroke-width="1.1"/>
<line x1="214.2" y1="604.5" x2="214.2" y2="608.5" stroke="#2C4B85" stroke-width="1"/>
<line x1="212.7" y1="604.5" x2="215.7" y2="604.5" stroke="#2C4B85" stroke-width="1"/>
<line x1="212.7" y1="608.5" x2="215.7" y2="608.5" stroke="#2C4B85" stroke-width="1"/>
<circle cx="214.2" cy="606.7" r="1.7" fill="#1F3C78"/>
<line x1="237.5" y1="603.8" x2="237.5" y2="607.5" stroke="#2C4B85" stroke-width="1"/>
<line x1="236" y1="603.8" x2="239" y2="603.8" stroke="#2C4B85" stroke-width="1"/>
<line x1="236" y1="607.5" x2="239" y2="607.5" stroke="#2C4B85" stroke-width="1"/>
<circle cx="237.5" cy="605.8" r="1.7" fill="#1F3C78"/>
<line x1="260.8" y1="599.8" x2="260.8" y2="606.7" stroke="#2C4B85" stroke-width="1"/>
<line x1="259.3" y1="599.8" x2="262.3" y2="599.8" stroke="#2C4B85" stroke-width="1"/>
<line x1="259.3" y1="606.7" x2="262.3" y2="606.7" stroke="#2C4B85" stroke-width="1"/>
<circle cx="260.8" cy="604.1" r="1.7" fill="#1F3C78"/>
<line x1="284.1" y1="592.5" x2="284.1" y2="606.4" stroke="#2C4B85" stroke-width="1"/>
<line x1="282.6" y1="592.5" x2="285.6" y2="592.5" stroke="#2C4B85" stroke-width="1"/>
<line x1="282.6" y1="606.4" x2="285.6" y2="606.4" stroke="#2C4B85" stroke-width="1"/>
<circle cx="284.1" cy="599.8" r="1.7" fill="#1F3C78"/>
<line x1="307.4" y1="594.6" x2="307.4" y2="606.4" stroke="#2C4B85" stroke-width="1"/>
<line x1="305.9" y1="594.6" x2="308.9" y2="594.6" stroke="#2C4B85" stroke-width="1"/>
<line x1="305.9" y1="606.4" x2="308.9" y2="606.4" stroke="#2C4B85" stroke-width="1"/>
<circle cx="307.4" cy="601" r="1.7" fill="#1F3C78"/>
<line x1="330.7" y1="588.5" x2="330.7" y2="606.4" stroke="#2C4B85" stroke-width="1"/>
<line x1="329.2" y1="588.5" x2="332.2" y2="588.5" stroke="#2C4B85" stroke-width="1"/>
<line x1="329.2" y1="606.4" x2="332.2" y2="606.4" stroke="#2C4B85" stroke-width="1"/>
<circle cx="330.7" cy="597.7" r="1.7" fill="#1F3C78"/>
<line x1="354" y1="587.7" x2="354" y2="605.8" stroke="#2C4B85" stroke-width="1"/>
<line x1="352.5" y1="587.7" x2="355.5" y2="587.7" stroke="#2C4B85" stroke-width="1"/>
<line x1="352.5" y1="605.8" x2="355.5" y2="605.8" stroke="#2C4B85" stroke-width="1"/>
<circle cx="354" cy="596.9" r="1.7" fill="#1F3C78"/>
<line x1="214.2" y1="590.3" x2="214.2" y2="601.5" stroke="#B81E40" stroke-width="1"/>
<line x1="212.7" y1="590.3" x2="215.7" y2="590.3" stroke="#B81E40" stroke-width="1"/>
<line x1="212.7" y1="601.5" x2="215.7" y2="601.5" stroke="#B81E40" stroke-width="1"/>
<circle cx="214.2" cy="596.3" r="1.7" fill="#A8002C"/>
<line x1="237.5" y1="581.1" x2="237.5" y2="593.7" stroke="#B81E40" stroke-width="1"/>
<line x1="236" y1="581.1" x2="239" y2="581.1" stroke="#B81E40" stroke-width="1"/>
<line x1="236" y1="593.7" x2="239" y2="593.7" stroke="#B81E40" stroke-width="1"/>
<circle cx="237.5" cy="587.7" r="1.7" fill="#A8002C"/>
<line x1="260.8" y1="550" x2="260.8" y2="573.2" stroke="#B81E40" stroke-width="1"/>
<line x1="259.3" y1="550" x2="262.3" y2="550" stroke="#B81E40" stroke-width="1"/>
<line x1="259.3" y1="573.2" x2="262.3" y2="573.2" stroke="#B81E40" stroke-width="1"/>
<circle cx="260.8" cy="561.6" r="1.7" fill="#A8002C"/>
<line x1="284.1" y1="526.3" x2="284.1" y2="564" stroke="#B81E40" stroke-width="1"/>
<line x1="282.6" y1="526.3" x2="285.6" y2="526.3" stroke="#B81E40" stroke-width="1"/>
<line x1="282.6" y1="564" x2="285.6" y2="564" stroke="#B81E40" stroke-width="1"/>
<circle cx="284.1" cy="545.4" r="1.7" fill="#A8002C"/>
<line x1="307.4" y1="517.3" x2="307.4" y2="563.5" stroke="#B81E40" stroke-width="1"/>
<line x1="305.9" y1="517.3" x2="308.9" y2="517.3" stroke="#B81E40" stroke-width="1"/>
<line x1="305.9" y1="563.5" x2="308.9" y2="563.5" stroke="#B81E40" stroke-width="1"/>
<circle cx="307.4" cy="540.5" r="1.7" fill="#A8002C"/>
<line x1="330.7" y1="512.8" x2="330.7" y2="554" stroke="#B81E40" stroke-width="1"/>
<line x1="329.2" y1="512.8" x2="332.2" y2="512.8" stroke="#B81E40" stroke-width="1"/>
<line x1="329.2" y1="554" x2="332.2" y2="554" stroke="#B81E40" stroke-width="1"/>
<circle cx="330.7" cy="533.8" r="1.7" fill="#A8002C"/>
<line x1="354" y1="511.1" x2="354" y2="547.6" stroke="#B81E40" stroke-width="1"/>
<line x1="352.5" y1="511.1" x2="355.5" y2="511.1" stroke="#B81E40" stroke-width="1"/>
<line x1="352.5" y1="547.6" x2="355.5" y2="547.6" stroke="#B81E40" stroke-width="1"/>
<circle cx="354" cy="529.8" r="1.7" fill="#A8002C"/>
<circle cx="307.3" cy="511.6" r="0.85" fill="#333"/>
<circle cx="330.5" cy="505.2" r="0.85" fill="#333"/>
<circle cx="348.9" cy="497.8" r="0.85" fill="#333"/>
<line x1="228" y1="512.6" x2="239.6" y2="512.6" stroke="#B81E40" stroke-width="1.1"/>
<circle cx="233.9" cy="512.6" r="1.7" fill="#A8002C"/>
<line x1="228" y1="521.8" x2="239.6" y2="521.8" stroke="#2C4B85" stroke-width="1.1"/>
<circle cx="233.9" cy="521.8" r="1.7" fill="#1F3C78"/>
<text x="253.95" y="515.26" font-size="7.4" text-anchor="middle" textLength="22.95" lengthAdjust="spacingAndGlyphs" stroke="#1c1c1c" stroke-width="0.3">Vehicle</text>
<text x="253.5" y="524.46" font-size="7.4" text-anchor="middle" textLength="22.03" lengthAdjust="spacingAndGlyphs" stroke="#1c1c1c" stroke-width="0.3">ML265</text>
<rect x="410.1" y="547.1" width="19" height="63.3" fill="#A3002C"/>
<rect x="438" y="577.5" width="19.1" height="32.9" fill="#2C4B85"/>
<circle cx="419.8" cy="536" r="1.75" fill="#000"/>
<circle cx="419.8" cy="542.2" r="1.75" fill="#000"/>
<circle cx="413.2" cy="545.3" r="1.75" fill="#000"/>
<circle cx="427.1" cy="544.5" r="1.75" fill="#000"/>
<circle cx="416.3" cy="547.6" r="1.75" fill="#000"/>
<circle cx="423.3" cy="546.4" r="1.75" fill="#000"/>
<circle cx="419.4" cy="548.7" r="1.75" fill="#000"/>
<circle cx="413.2" cy="551" r="1.75" fill="#000"/>
<circle cx="427.1" cy="550.7" r="1.75" fill="#000"/>
<circle cx="422.2" cy="553.8" r="1.75" fill="#000"/>
<circle cx="417.4" cy="556" r="1.75" fill="#000"/>
<line x1="447.5" y1="575.8" x2="447.5" y2="580" stroke="#fff" stroke-width="0.9"/>
<line x1="445" y1="575.8" x2="450" y2="575.8" stroke="#fff" stroke-width="0.9"/>
<rect x="445.6" y="558.1" width="3.4" height="3.4" fill="#000"/>
<rect x="443" y="568.7" width="3.4" height="3.4" fill="#000"/>
<rect x="448.2" y="568.7" width="3.4" height="3.4" fill="#000"/>
<rect x="438.9" y="573.3" width="3.4" height="3.4" fill="#000"/>
<rect x="445.6" y="574.9" width="3.4" height="3.4" fill="#000"/>
<rect x="451.8" y="575.3" width="3.4" height="3.4" fill="#000"/>
<rect x="443.3" y="581.6" width="3.4" height="3.4" fill="#000"/>
<rect x="448.2" y="585" width="3.4" height="3.4" fill="#000"/>
<rect x="445.6" y="592.7" width="3.4" height="3.4" fill="#000"/>
<rect x="442.5" y="577.2" width="3.4" height="3.4" fill="#000"/>
<rect x="448.7" y="577.2" width="3.4" height="3.4" fill="#000"/>
<line x1="401.2" y1="514.5" x2="401.2" y2="610.95" stroke="#111" stroke-width="1.1"/>
<line x1="397.8" y1="610.4" x2="401.2" y2="610.4" stroke="#111" stroke-width="0.9"/>
<text x="396" y="612.92" font-size="7" text-anchor="end" stroke="#1c1c1c" stroke-width="0.3">0</text>
<line x1="397.8" y1="591.85" x2="401.2" y2="591.85" stroke="#111" stroke-width="0.9"/>
<text x="396" y="594.37" font-size="7" text-anchor="end" stroke="#1c1c1c" stroke-width="0.3">20</text>
<line x1="397.8" y1="573.3" x2="401.2" y2="573.3" stroke="#111" stroke-width="0.9"/>
<text x="396" y="575.82" font-size="7" text-anchor="end" stroke="#1c1c1c" stroke-width="0.3">40</text>
<line x1="397.8" y1="554.75" x2="401.2" y2="554.75" stroke="#111" stroke-width="0.9"/>
<text x="396" y="557.27" font-size="7" text-anchor="end" stroke="#1c1c1c" stroke-width="0.3">60</text>
<line x1="397.8" y1="536.2" x2="401.2" y2="536.2" stroke="#111" stroke-width="0.9"/>
<text x="396" y="538.72" font-size="7" text-anchor="end" stroke="#1c1c1c" stroke-width="0.3">80</text>
<line x1="397.8" y1="517.65" x2="401.2" y2="517.65" stroke="#111" stroke-width="0.9"/>
<text x="396" y="520.17" font-size="7" text-anchor="end" stroke="#1c1c1c" stroke-width="0.3">100</text>
<line x1="400.7" y1="610.4" x2="465.9" y2="610.4" stroke="#111" stroke-width="1.2"/>
<text x="432.15" y="527.39" font-size="7.2" text-anchor="middle" textLength="23.18" lengthAdjust="spacingAndGlyphs" fill="#333" stroke="#333" stroke-width="0.3"><tspan font-style="italic">P</tspan> &lt; .05</text>
<line x1="412.2" y1="530.6" x2="455.2" y2="530.6" stroke="#555" stroke-width="1.1"/>
<text x="420.4" y="620.26" font-size="7.4" text-anchor="middle" stroke="#1c1c1c" stroke-width="0.3">0</text>
<text x="447.2" y="620.26" font-size="7.4" text-anchor="middle" stroke="#1c1c1c" stroke-width="0.3">150</text>
<line x1="413" y1="622.2" x2="458.2" y2="622.2" stroke="#333" stroke-width="1"/>
<text x="433.95" y="636.13" font-size="8.7" text-anchor="middle" textLength="42.74" lengthAdjust="spacingAndGlyphs" stroke="#1c1c1c" stroke-width="0.3">ML265 (μM)</text>
<text transform="translate(378 562.6) rotate(-90)" font-size="8.4" text-anchor="middle" textLength="96.45" lengthAdjust="spacingAndGlyphs" stroke="#1c1c1c" stroke-width="0.3">% of area covered by platelets</text>
<rect x="0.5" y="0.5" width="519" height="644" fill="none" stroke="#000" stroke-width="1"/>
<rect x="1.5" y="1.5" width="517" height="642" fill="none" stroke="#000" stroke-width="1" stroke-opacity="0.15"/>
</svg>
</body></html>
